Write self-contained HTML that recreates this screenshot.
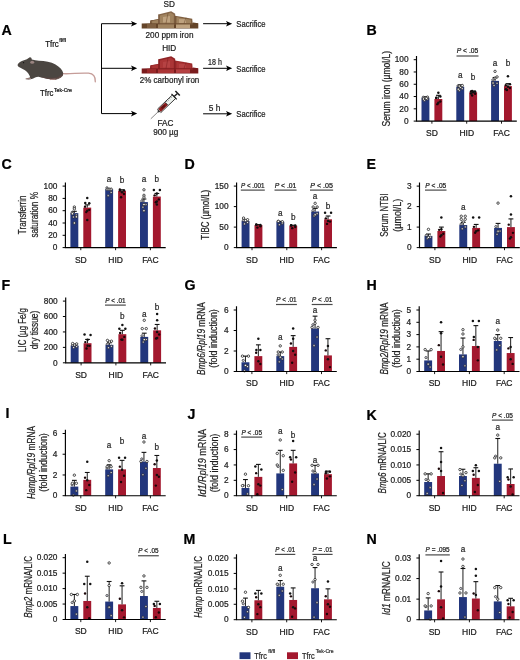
<!DOCTYPE html>
<html><head><meta charset="utf-8"><style>
html,body{margin:0;padding:0;background:#fff;}
svg{display:block;}
text{font-family:'Liberation Sans', sans-serif;stroke:currentColor;stroke-width:0.22px;}
</style></head><body>
<svg width="520" height="660" viewBox="0 0 520 660">
<rect width="520" height="660" fill="#fff"/>
<text x="1.5" y="35.4" font-size="14.2" text-anchor="start" fill="#000" color="#000" font-weight="bold" font-style="normal" stroke="#000" stroke-width="0.35">A</text>
<text x="45.2" y="46.9" font-size="8.8" fill="#1a1a1a" textLength="13.5" lengthAdjust="spacingAndGlyphs">Tfrc</text>
<text x="59.2" y="41.8" font-size="4.9" fill="#333" textLength="6.8" lengthAdjust="spacingAndGlyphs">fl/fl</text>
<text x="40.1" y="95.8" font-size="8.8" fill="#1a1a1a" textLength="13.3" lengthAdjust="spacingAndGlyphs">Tfrc</text>
<text x="54.1" y="91.6" font-size="4.9" fill="#333" textLength="17.7" lengthAdjust="spacingAndGlyphs">Tek-Cre</text>
<path d="M62.5 73.6 C70 74.2 80 72.6 88.5 73.2 C93 73.6 95.6 76 95.3 81.8" fill="none" stroke="#c59c98" stroke-width="1.35" stroke-linecap="round"/>
<path d="M17.6 64.8 C18.4 62.6 21 61 24 60.3 C26 59.6 27.8 58.6 29.4 57.4 C30.6 56.9 31.6 57.6 31.8 59.4 C34 60 36.5 60.6 39 60.8 C45 61 51 61.8 55.5 64.4 C59.6 66.8 62.6 70 63.2 73 C63.5 75.6 61.8 77.4 59.4 78 C57 79.4 54 79.9 50.5 79.2 C46 78.6 42 77.6 38.5 76.8 C36 77.2 34 78 32.6 78.8 C30.2 79.6 27.2 79.6 25.2 79 C26.8 77.9 28.8 77.8 30.2 77.2 C29.6 74.8 27.6 72.2 25 70.2 C22.8 69 20.6 67.9 18.9 67 C18 66.5 17.5 65.6 17.6 64.8 Z" fill="#4b4641"/>
<path d="M40 76.8 C46 77.6 52 78.2 57 77.2 C60 76.4 62.2 74.6 62.9 72.6 C62.6 75.6 61 77.5 58.8 78.2 C56 79.5 52 79.7 48 79 C45 78.4 42 77.6 40 76.8 Z" fill="#5a4542"/>
<path d="M50 79.2 C53 79.8 56 79.6 58.5 78.3 C60.5 77.5 62 76.6 62.8 75" fill="none" stroke="#6e5a52" stroke-width="1"/>
<ellipse cx="32.2" cy="62.2" rx="2" ry="1.5" fill="#9a8480"/>
<circle cx="23.6" cy="62.7" r="0.6" fill="#111"/>
<path d="M25.8 78.8 L31 78.6 M50 79.6 L55.5 79.2" stroke="#b08f8a" stroke-width="0.9"/>
<path d="M101.5 23.7 V113.6" fill="none" stroke="#000" stroke-width="1"/>
<line x1="101.5" y1="23.7" x2="133" y2="23.7" stroke="#000" stroke-width="1"/>
<path d="M137.2 23.7 L131 20.9 L132.4 23.7 L131 26.5 Z" fill="#000"/>
<line x1="101.5" y1="68.3" x2="133" y2="68.3" stroke="#000" stroke-width="1"/>
<path d="M137.2 68.3 L131 65.5 L132.4 68.3 L131 71.1 Z" fill="#000"/>
<line x1="101.5" y1="113.6" x2="133" y2="113.6" stroke="#000" stroke-width="1"/>
<path d="M137.2 113.6 L131 110.8 L132.4 113.6 L131 116.39999999999999 Z" fill="#000"/>
<line x1="203.1" y1="23.7" x2="228" y2="23.7" stroke="#000" stroke-width="1"/>
<path d="M232.2 23.7 L226 20.9 L227.4 23.7 L226 26.5 Z" fill="#000"/>
<text x="236.3" y="26.9" font-size="9.2" text-anchor="start" fill="#222" color="#222" font-weight="normal" font-style="normal" textLength="29.3" lengthAdjust="spacingAndGlyphs">Sacrifice</text>
<line x1="203.1" y1="68.3" x2="228" y2="68.3" stroke="#000" stroke-width="1"/>
<path d="M232.2 68.3 L226 65.5 L227.4 68.3 L226 71.1 Z" fill="#000"/>
<text x="236.3" y="71.5" font-size="9.2" text-anchor="start" fill="#222" color="#222" font-weight="normal" font-style="normal" textLength="29.3" lengthAdjust="spacingAndGlyphs">Sacrifice</text>
<line x1="203.1" y1="113.8" x2="228" y2="113.8" stroke="#000" stroke-width="1"/>
<path d="M232.2 113.8 L226 111.0 L227.4 113.8 L226 116.6 Z" fill="#000"/>
<text x="236.3" y="117" font-size="9.2" text-anchor="start" fill="#222" color="#222" font-weight="normal" font-style="normal" textLength="29.3" lengthAdjust="spacingAndGlyphs">Sacrifice</text>
<text x="215" y="65.2" font-size="8.7" text-anchor="middle" fill="#222" color="#222" font-weight="normal" font-style="normal" textLength="13.8" lengthAdjust="spacingAndGlyphs">18 h</text>
<text x="214.6" y="111" font-size="8.7" text-anchor="middle" fill="#222" color="#222" font-weight="normal" font-style="normal" textLength="11.6" lengthAdjust="spacingAndGlyphs">5 h</text>
<text x="169.2" y="6.8" font-size="8.2" text-anchor="middle" fill="#222" color="#222" font-weight="normal" font-style="normal" >SD</text>
<text x="169.5" y="38.4" font-size="8.2" text-anchor="middle" fill="#222" color="#222" font-weight="normal" font-style="normal" textLength="48" lengthAdjust="spacingAndGlyphs">200 ppm iron</text>
<text x="169.2" y="51.2" font-size="8.2" text-anchor="middle" fill="#222" color="#222" font-weight="normal" font-style="normal" >HID</text>
<text x="169.5" y="83.4" font-size="8.2" text-anchor="middle" fill="#222" color="#222" font-weight="normal" font-style="normal" textLength="59.6" lengthAdjust="spacingAndGlyphs">2% carbonyl iron</text>
<text x="165.5" y="126.3" font-size="8.2" text-anchor="middle" fill="#222" color="#222" font-weight="normal" font-style="normal" >FAC</text>
<text x="165.8" y="134.8" font-size="8.2" text-anchor="middle" fill="#222" color="#222" font-weight="normal" font-style="normal" >900 µg</text>
<polygon points="141.7,28.6 141.7,23.6 150.0,23.3 150.3,20.6 159.5,19.1 159.5,23.4 175.0,23.2 192.3,23.4 193.0,22.6 198.3,23.3 198.3,28.6" fill="#654529"/>
<polygon points="147.0,28.0 147.0,24.0 156.0,24.0 156.0,28.0" fill="#7f5f40"/>
<polygon points="158.0,28.0 158.0,24.0 174.0,23.8 174.0,28.0" fill="#a0835f"/>
<polygon points="176.0,28.0 176.0,24.0 190.0,24.0 190.0,28.0" fill="#bea27f"/>
<polygon points="150.3,24.1 150.6,20.4 159.6,18.9 159.6,24.1" fill="#7f5f40"/>
<polygon points="152.0,23.6 152.2,21.0 158.6,19.8 158.6,23.6" fill="#a0835f"/>
<polygon points="158.4,24.6 158.3,14.4 171.2,11.3 175.2,13.8 175.2,24.6" fill="#86674a"/>
<polygon points="160.0,23.6 160.0,15.6 170.8,12.8 173.8,14.8 173.8,23.6" fill="#a0835f"/>
<polygon points="163.0,22.6 163.0,17.1 170.0,16.1 170.0,22.6" fill="#bea27f"/>
<polygon points="174.6,24.6 174.9,15.7 181.0,16.7 192.2,18.7 192.8,24.6" fill="#7f5f40"/>
<polygon points="176.4,23.6 176.6,17.0 181.0,17.9 190.8,19.8 191.3,23.6" fill="#a0835f"/>
<polygon points="179.0,23.0 179.0,19.1 186.0,19.1 186.0,23.0" fill="#bea27f"/>
<path d="M158.8 24.4V14.4 M175 24.4V15.6 M166 23.6L168 13.1 M184 23.6L186 17.6 M150.5 23.6H198" stroke="#654529" stroke-width="0.5" fill="none"/>
<polygon points="141.7,73.5 141.7,68.5 150.0,68.2 150.3,65.5 159.5,64.0 159.5,68.3 175.0,68.1 192.3,68.3 193.0,67.5 198.3,68.2 198.3,73.5" fill="#7a1b1d"/>
<polygon points="147.0,72.9 147.0,68.9 156.0,68.9 156.0,72.9" fill="#9c2a2b"/>
<polygon points="158.0,72.9 158.0,68.9 174.0,68.7 174.0,72.9" fill="#ab3536"/>
<polygon points="176.0,72.9 176.0,68.9 190.0,68.9 190.0,72.9" fill="#b64243"/>
<polygon points="150.3,69.0 150.6,65.3 159.6,63.8 159.6,69.0" fill="#9c2a2b"/>
<polygon points="152.0,68.5 152.2,65.9 158.6,64.7 158.6,68.5" fill="#ab3536"/>
<polygon points="158.4,69.5 158.3,59.3 171.2,56.2 175.2,58.7 175.2,69.5" fill="#8f2426"/>
<polygon points="160.0,68.5 160.0,60.5 170.8,57.7 173.8,59.7 173.8,68.5" fill="#ab3536"/>
<polygon points="163.0,67.5 163.0,62.0 170.0,61.0 170.0,67.5" fill="#b64243"/>
<polygon points="174.6,69.5 174.9,60.6 181.0,61.6 192.2,63.6 192.8,69.5" fill="#9c2a2b"/>
<polygon points="176.4,68.5 176.6,61.9 181.0,62.8 190.8,64.7 191.3,68.5" fill="#ab3536"/>
<polygon points="179.0,67.9 179.0,64.0 186.0,64.0 186.0,67.9" fill="#b64243"/>
<path d="M158.8 69.3V59.3 M175 69.3V60.5 M166 68.5L168 58.0 M184 68.5L186 62.5 M150.5 68.5H198" stroke="#7a1b1d" stroke-width="0.5" fill="none"/>
<g transform="translate(150.8 118.8) rotate(-43.6)"><line x1="0" y1="0" x2="10.5" y2="0" stroke="#444" stroke-width="0.6"/><rect x="10" y="-1.1" width="1.8" height="2.2" fill="#333"/><rect x="11.6" y="-2.4" width="20.6" height="4.8" fill="#eef2ee" stroke="#1e1e1e" stroke-width="0.8"/><rect x="12.2" y="-1.8" width="9.6" height="3.6" fill="#8e1c1c"/><rect x="15" y="-1.2" width="4.5" height="2" fill="#5e1010"/><line x1="21.8" y1="-1.8" x2="21.8" y2="1.8" stroke="#333" stroke-width="0.8"/><line x1="23.5" y1="-2.4" x2="23.5" y2="-0.8" stroke="#333" stroke-width="0.45"/><line x1="25.5" y1="-2.4" x2="25.5" y2="-0.8" stroke="#333" stroke-width="0.45"/><line x1="27.5" y1="-2.4" x2="27.5" y2="-0.8" stroke="#333" stroke-width="0.45"/><line x1="29.5" y1="-2.4" x2="29.5" y2="-0.8" stroke="#333" stroke-width="0.45"/><line x1="32.2" y1="-3.8" x2="32.2" y2="3.8" stroke="#1e1e1e" stroke-width="1.2"/><line x1="32.2" y1="0" x2="36.8" y2="0" stroke="#1e1e1e" stroke-width="1.3"/><line x1="37" y1="-3.2" x2="37" y2="3.2" stroke="#1e1e1e" stroke-width="1.5"/></g>
<text x="366.5" y="35.4" font-size="14.2" text-anchor="start" fill="#000" color="#000" font-weight="bold" font-style="normal" stroke="#000" stroke-width="0.35">B</text>
<rect x="421.5" y="97.77" width="7.9" height="23.33" fill="#22367c"/>
<line x1="425.45" y1="97.77" x2="425.45" y2="96.54" stroke="#111" stroke-width="0.95"/>
<line x1="423.05" y1="96.54" x2="427.85" y2="96.54" stroke="#111" stroke-width="1.1"/>
<circle cx="423.25" cy="97.21" r="1.1" fill="#dde" stroke="#222" stroke-width="0.7"/>
<circle cx="427.45" cy="99.07" r="1.1" fill="#dde" stroke="#222" stroke-width="0.7"/>
<circle cx="424.45" cy="100.38" r="1.1" fill="#dde" stroke="#222" stroke-width="0.7"/>
<circle cx="423.45" cy="99" r="1.2" fill="#fff" stroke="#222" stroke-width="0.8"/>
<circle cx="425.45" cy="97.77" r="1.2" fill="#fff" stroke="#222" stroke-width="0.8"/>
<circle cx="427.45" cy="97.15" r="1.2" fill="#fff" stroke="#222" stroke-width="0.8"/>
<circle cx="426.45" cy="98.38" r="1.2" fill="#fff" stroke="#222" stroke-width="0.8"/>
<rect x="434.4" y="99" width="7.9" height="22.1" fill="#a3182e"/>
<line x1="438.35" y1="99" x2="438.35" y2="95.31" stroke="#111" stroke-width="0.95"/>
<line x1="435.95" y1="95.31" x2="440.75" y2="95.31" stroke="#111" stroke-width="1.1"/>
<circle cx="436.15" cy="97.89" r="1.2" fill="#1a0608"/>
<circle cx="440.35" cy="101.57" r="1.2" fill="#1a0608"/>
<circle cx="437.35" cy="104.15" r="1.2" fill="#1a0608"/>
<circle cx="438.35" cy="102.68" r="1.25" fill="#111"/>
<circle cx="436.35" cy="97.77" r="1.25" fill="#111"/>
<circle cx="440.35" cy="96.54" r="1.25" fill="#111"/>
<circle cx="438.35" cy="92.86" r="1.25" fill="#111"/>
<rect x="456.3" y="86.72" width="7.9" height="34.38" fill="#22367c"/>
<line x1="460.25" y1="86.72" x2="460.25" y2="84.87" stroke="#111" stroke-width="0.95"/>
<line x1="457.85" y1="84.87" x2="462.65" y2="84.87" stroke="#111" stroke-width="1.1"/>
<circle cx="458.05" cy="85.89" r="1.1" fill="#dde" stroke="#222" stroke-width="0.7"/>
<circle cx="462.25" cy="88.64" r="1.1" fill="#dde" stroke="#222" stroke-width="0.7"/>
<circle cx="459.25" cy="90.57" r="1.1" fill="#dde" stroke="#222" stroke-width="0.7"/>
<circle cx="458.25" cy="89.17" r="1.2" fill="#fff" stroke="#222" stroke-width="0.8"/>
<circle cx="460.25" cy="87.33" r="1.2" fill="#fff" stroke="#222" stroke-width="0.8"/>
<circle cx="462.25" cy="85.49" r="1.2" fill="#fff" stroke="#222" stroke-width="0.8"/>
<circle cx="459.25" cy="86.1" r="1.2" fill="#fff" stroke="#222" stroke-width="0.8"/>
<rect x="469.2" y="92.24" width="7.9" height="28.86" fill="#a3182e"/>
<line x1="473.15" y1="92.24" x2="473.15" y2="91.01" stroke="#111" stroke-width="0.95"/>
<line x1="470.75" y1="91.01" x2="475.55" y2="91.01" stroke="#111" stroke-width="1.1"/>
<circle cx="470.95" cy="91.55" r="1.2" fill="#1a0608"/>
<circle cx="475.15" cy="93.86" r="1.2" fill="#1a0608"/>
<circle cx="472.15" cy="95.47" r="1.2" fill="#1a0608"/>
<circle cx="471.15" cy="93.47" r="1.25" fill="#111"/>
<circle cx="473.15" cy="92.24" r="1.25" fill="#111"/>
<circle cx="475.15" cy="91.63" r="1.25" fill="#111"/>
<circle cx="472.15" cy="91.01" r="1.25" fill="#111"/>
<rect x="491.1" y="80.88" width="7.9" height="40.22" fill="#22367c"/>
<line x1="495.05" y1="80.88" x2="495.05" y2="77.51" stroke="#111" stroke-width="0.95"/>
<line x1="492.65" y1="77.51" x2="497.45" y2="77.51" stroke="#111" stroke-width="1.1"/>
<circle cx="492.85" cy="79.87" r="1.1" fill="#dde" stroke="#222" stroke-width="0.7"/>
<circle cx="497.05" cy="83.25" r="1.1" fill="#dde" stroke="#222" stroke-width="0.7"/>
<circle cx="494.05" cy="85.61" r="1.1" fill="#dde" stroke="#222" stroke-width="0.7"/>
<circle cx="493.05" cy="83.03" r="1.2" fill="#fff" stroke="#222" stroke-width="0.8"/>
<circle cx="495.05" cy="78.12" r="1.2" fill="#fff" stroke="#222" stroke-width="0.8"/>
<circle cx="497.05" cy="76.89" r="1.2" fill="#fff" stroke="#222" stroke-width="0.8"/>
<circle cx="495.05" cy="71.37" r="1.2" fill="#fff" stroke="#222" stroke-width="0.8"/>
<rect x="504" y="86.1" width="7.9" height="35" fill="#a3182e"/>
<line x1="507.95" y1="86.1" x2="507.95" y2="83.65" stroke="#111" stroke-width="0.95"/>
<line x1="505.55" y1="83.65" x2="510.35" y2="83.65" stroke="#111" stroke-width="1.1"/>
<circle cx="505.75" cy="85.26" r="1.2" fill="#1a0608"/>
<circle cx="509.95" cy="88.06" r="1.2" fill="#1a0608"/>
<circle cx="506.95" cy="90.02" r="1.2" fill="#1a0608"/>
<circle cx="505.95" cy="89.17" r="1.25" fill="#111"/>
<circle cx="507.95" cy="86.72" r="1.25" fill="#111"/>
<circle cx="509.95" cy="84.26" r="1.25" fill="#111"/>
<circle cx="507.95" cy="76.28" r="1.25" fill="#111"/>
<path d="M416.5 56V121.1H516.8" fill="none" stroke="#000" stroke-width="1.15"/>
<line x1="413.7" y1="121.1" x2="416.5" y2="121.1" stroke="#000" stroke-width="1"/>
<text x="408.5" y="123.85" font-size="8.3" text-anchor="end" fill="#222" color="#222" font-weight="normal" font-style="normal" >0</text>
<line x1="413.7" y1="108.82" x2="416.5" y2="108.82" stroke="#000" stroke-width="1"/>
<text x="408.5" y="111.57" font-size="8.3" text-anchor="end" fill="#222" color="#222" font-weight="normal" font-style="normal" >20</text>
<line x1="413.7" y1="96.54" x2="416.5" y2="96.54" stroke="#000" stroke-width="1"/>
<text x="408.5" y="99.29" font-size="8.3" text-anchor="end" fill="#222" color="#222" font-weight="normal" font-style="normal" >40</text>
<line x1="413.7" y1="84.26" x2="416.5" y2="84.26" stroke="#000" stroke-width="1"/>
<text x="408.5" y="87.01" font-size="8.3" text-anchor="end" fill="#222" color="#222" font-weight="normal" font-style="normal" >60</text>
<line x1="413.7" y1="71.98" x2="416.5" y2="71.98" stroke="#000" stroke-width="1"/>
<text x="408.5" y="74.73" font-size="8.3" text-anchor="end" fill="#222" color="#222" font-weight="normal" font-style="normal" >80</text>
<line x1="413.7" y1="59.7" x2="416.5" y2="59.7" stroke="#000" stroke-width="1"/>
<text x="408.5" y="62.45" font-size="8.3" text-anchor="end" fill="#222" color="#222" font-weight="normal" font-style="normal" >100</text>
<line x1="431.9" y1="121.1" x2="431.9" y2="123.7" stroke="#000" stroke-width="0.9"/>
<text x="431.9" y="136" font-size="8.5" text-anchor="middle" fill="#1a1a1a" color="#1a1a1a" font-weight="normal" font-style="normal" >SD</text>
<line x1="466.7" y1="121.1" x2="466.7" y2="123.7" stroke="#000" stroke-width="0.9"/>
<text x="466.7" y="136" font-size="8.5" text-anchor="middle" fill="#1a1a1a" color="#1a1a1a" font-weight="normal" font-style="normal" >HID</text>
<line x1="501.5" y1="121.1" x2="501.5" y2="123.7" stroke="#000" stroke-width="0.9"/>
<text x="501.5" y="136" font-size="8.5" text-anchor="middle" fill="#1a1a1a" color="#1a1a1a" font-weight="normal" font-style="normal" >FAC</text>
<text transform="translate(390,88.7) rotate(-90)" font-size="10.1" text-anchor="middle" fill="#1e1e1e" color="#1e1e1e" textLength="75.7" lengthAdjust="spacingAndGlyphs">Serum iron (µmol/L)</text>
<text x="460.25" y="77.9" font-size="8.2" text-anchor="middle" fill="#2a2a2a" color="#2a2a2a" font-weight="normal" font-style="normal" >a</text>
<text x="473.15" y="80" font-size="8.2" text-anchor="middle" fill="#2a2a2a" color="#2a2a2a" font-weight="normal" font-style="normal" >b</text>
<text x="495.05" y="66.1" font-size="8.2" text-anchor="middle" fill="#2a2a2a" color="#2a2a2a" font-weight="normal" font-style="normal" >a</text>
<text x="507.95" y="65.5" font-size="8.2" text-anchor="middle" fill="#2a2a2a" color="#2a2a2a" font-weight="normal" font-style="normal" >b</text>
<line x1="456.5" y1="56" x2="478.5" y2="56" stroke="#4a4a4a" stroke-width="1.2"/>
<text x="467.5" y="53.4" font-size="6.4" text-anchor="middle" fill="#222" color="#222" font-weight="normal" font-style="normal" textLength="21.6" lengthAdjust="spacingAndGlyphs"><tspan font-style="italic">P</tspan> &lt; .05</text>
<text x="1.5" y="168.5" font-size="14.2" text-anchor="start" fill="#000" color="#000" font-weight="bold" font-style="normal" stroke="#000" stroke-width="0.35">C</text>
<rect x="70.4" y="213.16" width="7.9" height="34.44" fill="#22367c"/>
<line x1="74.35" y1="213.16" x2="74.35" y2="211.31" stroke="#111" stroke-width="0.95"/>
<line x1="71.95" y1="211.31" x2="76.75" y2="211.31" stroke="#111" stroke-width="1.1"/>
<circle cx="72.15" cy="212.33" r="1.1" fill="#dde" stroke="#222" stroke-width="0.7"/>
<circle cx="76.35" cy="215.09" r="1.1" fill="#dde" stroke="#222" stroke-width="0.7"/>
<circle cx="73.35" cy="217.02" r="1.1" fill="#dde" stroke="#222" stroke-width="0.7"/>
<circle cx="74.35" cy="207.01" r="1.2" fill="#fff" stroke="#222" stroke-width="0.8"/>
<circle cx="74.35" cy="208.85" r="1.2" fill="#fff" stroke="#222" stroke-width="0.8"/>
<circle cx="72.35" cy="213.77" r="1.2" fill="#fff" stroke="#222" stroke-width="0.8"/>
<circle cx="76.35" cy="216.85" r="1.2" fill="#fff" stroke="#222" stroke-width="0.8"/>
<circle cx="74.35" cy="223" r="1.2" fill="#fff" stroke="#222" stroke-width="0.8"/>
<rect x="83.3" y="207.62" width="7.9" height="39.97" fill="#a3182e"/>
<line x1="87.25" y1="207.62" x2="87.25" y2="204.86" stroke="#111" stroke-width="0.95"/>
<line x1="84.85" y1="204.86" x2="89.65" y2="204.86" stroke="#111" stroke-width="1.1"/>
<circle cx="85.05" cy="206.67" r="1.2" fill="#1a0608"/>
<circle cx="89.25" cy="209.86" r="1.2" fill="#1a0608"/>
<circle cx="86.25" cy="212.1" r="1.2" fill="#1a0608"/>
<circle cx="87.25" cy="198.03" r="1.25" fill="#111"/>
<circle cx="85.25" cy="203.01" r="1.25" fill="#111"/>
<circle cx="89.25" cy="203.32" r="1.25" fill="#111"/>
<circle cx="87.25" cy="210.7" r="1.25" fill="#111"/>
<circle cx="87.25" cy="219.92" r="1.25" fill="#111"/>
<rect x="105.2" y="189.18" width="7.9" height="58.42" fill="#22367c"/>
<line x1="109.15" y1="189.18" x2="109.15" y2="188.56" stroke="#111" stroke-width="0.95"/>
<line x1="106.75" y1="188.56" x2="111.55" y2="188.56" stroke="#111" stroke-width="1.1"/>
<circle cx="106.95" cy="187.77" r="1.1" fill="#dde" stroke="#222" stroke-width="0.7"/>
<circle cx="111.15" cy="192.45" r="1.1" fill="#dde" stroke="#222" stroke-width="0.7"/>
<circle cx="108.15" cy="195.72" r="1.1" fill="#dde" stroke="#222" stroke-width="0.7"/>
<circle cx="107.15" cy="189.18" r="1.2" fill="#fff" stroke="#222" stroke-width="0.8"/>
<circle cx="109.15" cy="189.18" r="1.2" fill="#fff" stroke="#222" stroke-width="0.8"/>
<circle cx="111.15" cy="189.18" r="1.2" fill="#fff" stroke="#222" stroke-width="0.8"/>
<rect x="118.1" y="190.84" width="7.9" height="56.76" fill="#a3182e"/>
<line x1="122.05" y1="190.84" x2="122.05" y2="189.79" stroke="#111" stroke-width="0.95"/>
<line x1="119.65" y1="189.79" x2="124.45" y2="189.79" stroke="#111" stroke-width="1.1"/>
<circle cx="119.85" cy="189.47" r="1.2" fill="#1a0608"/>
<circle cx="124.05" cy="194.01" r="1.2" fill="#1a0608"/>
<circle cx="121.05" cy="197.19" r="1.2" fill="#1a0608"/>
<circle cx="120.05" cy="190.41" r="1.25" fill="#111"/>
<circle cx="124.05" cy="190.41" r="1.25" fill="#111"/>
<circle cx="122.05" cy="192.25" r="1.25" fill="#111"/>
<rect x="140" y="202.09" width="7.9" height="45.51" fill="#22367c"/>
<line x1="143.95" y1="202.09" x2="143.95" y2="199.01" stroke="#111" stroke-width="0.95"/>
<line x1="141.55" y1="199.01" x2="146.35" y2="199.01" stroke="#111" stroke-width="1.1"/>
<circle cx="141.75" cy="201" r="1.1" fill="#dde" stroke="#222" stroke-width="0.7"/>
<circle cx="145.95" cy="204.64" r="1.1" fill="#dde" stroke="#222" stroke-width="0.7"/>
<circle cx="142.95" cy="207.19" r="1.1" fill="#dde" stroke="#222" stroke-width="0.7"/>
<circle cx="143.95" cy="189.79" r="1.2" fill="#fff" stroke="#222" stroke-width="0.8"/>
<circle cx="143.95" cy="195.32" r="1.2" fill="#fff" stroke="#222" stroke-width="0.8"/>
<circle cx="143.95" cy="197.17" r="1.2" fill="#fff" stroke="#222" stroke-width="0.8"/>
<circle cx="143.95" cy="204.55" r="1.2" fill="#fff" stroke="#222" stroke-width="0.8"/>
<circle cx="143.95" cy="210.7" r="1.2" fill="#fff" stroke="#222" stroke-width="0.8"/>
<rect x="152.9" y="196.56" width="7.9" height="51.04" fill="#a3182e"/>
<line x1="156.85" y1="196.56" x2="156.85" y2="193.48" stroke="#111" stroke-width="0.95"/>
<line x1="154.45" y1="193.48" x2="159.25" y2="193.48" stroke="#111" stroke-width="1.1"/>
<circle cx="154.65" cy="195.33" r="1.2" fill="#1a0608"/>
<circle cx="158.85" cy="199.41" r="1.2" fill="#1a0608"/>
<circle cx="155.85" cy="202.27" r="1.2" fill="#1a0608"/>
<circle cx="153.85" cy="190.04" r="1.25" fill="#111"/>
<circle cx="159.85" cy="190.04" r="1.25" fill="#111"/>
<circle cx="156.85" cy="193.48" r="1.25" fill="#111"/>
<circle cx="156.85" cy="201.47" r="1.25" fill="#111"/>
<circle cx="156.85" cy="204.55" r="1.25" fill="#111"/>
<path d="M65.4 182.4V247.6H165.7" fill="none" stroke="#000" stroke-width="1.15"/>
<line x1="62.6" y1="247.6" x2="65.4" y2="247.6" stroke="#000" stroke-width="1"/>
<text x="57.4" y="250.35" font-size="8.3" text-anchor="end" fill="#222" color="#222" font-weight="normal" font-style="normal" >0</text>
<line x1="62.6" y1="235.3" x2="65.4" y2="235.3" stroke="#000" stroke-width="1"/>
<text x="57.4" y="238.05" font-size="8.3" text-anchor="end" fill="#222" color="#222" font-weight="normal" font-style="normal" >20</text>
<line x1="62.6" y1="223" x2="65.4" y2="223" stroke="#000" stroke-width="1"/>
<text x="57.4" y="225.75" font-size="8.3" text-anchor="end" fill="#222" color="#222" font-weight="normal" font-style="normal" >40</text>
<line x1="62.6" y1="210.7" x2="65.4" y2="210.7" stroke="#000" stroke-width="1"/>
<text x="57.4" y="213.45" font-size="8.3" text-anchor="end" fill="#222" color="#222" font-weight="normal" font-style="normal" >60</text>
<line x1="62.6" y1="198.4" x2="65.4" y2="198.4" stroke="#000" stroke-width="1"/>
<text x="57.4" y="201.15" font-size="8.3" text-anchor="end" fill="#222" color="#222" font-weight="normal" font-style="normal" >80</text>
<line x1="62.6" y1="186.1" x2="65.4" y2="186.1" stroke="#000" stroke-width="1"/>
<text x="57.4" y="188.85" font-size="8.3" text-anchor="end" fill="#222" color="#222" font-weight="normal" font-style="normal" >100</text>
<line x1="80.8" y1="247.6" x2="80.8" y2="250.2" stroke="#000" stroke-width="0.9"/>
<text x="80.8" y="262.5" font-size="8.5" text-anchor="middle" fill="#1a1a1a" color="#1a1a1a" font-weight="normal" font-style="normal" >SD</text>
<line x1="115.6" y1="247.6" x2="115.6" y2="250.2" stroke="#000" stroke-width="0.9"/>
<text x="115.6" y="262.5" font-size="8.5" text-anchor="middle" fill="#1a1a1a" color="#1a1a1a" font-weight="normal" font-style="normal" >HID</text>
<line x1="150.4" y1="247.6" x2="150.4" y2="250.2" stroke="#000" stroke-width="0.9"/>
<text x="150.4" y="262.5" font-size="8.5" text-anchor="middle" fill="#1a1a1a" color="#1a1a1a" font-weight="normal" font-style="normal" >FAC</text>
<text transform="translate(25.9,214.8) rotate(-90)" font-size="10.1" text-anchor="middle" fill="#1e1e1e" color="#1e1e1e" textLength="38.7" lengthAdjust="spacingAndGlyphs">Transferrin</text>
<text transform="translate(38.4,214.8) rotate(-90)" font-size="10.1" text-anchor="middle" fill="#1e1e1e" color="#1e1e1e" textLength="45.5" lengthAdjust="spacingAndGlyphs">saturation %</text>
<text x="109.15" y="181.5" font-size="8.2" text-anchor="middle" fill="#2a2a2a" color="#2a2a2a" font-weight="normal" font-style="normal" >a</text>
<text x="122.05" y="182.6" font-size="8.2" text-anchor="middle" fill="#2a2a2a" color="#2a2a2a" font-weight="normal" font-style="normal" >b</text>
<text x="143.95" y="181.5" font-size="8.2" text-anchor="middle" fill="#2a2a2a" color="#2a2a2a" font-weight="normal" font-style="normal" >a</text>
<text x="156.85" y="182" font-size="8.2" text-anchor="middle" fill="#2a2a2a" color="#2a2a2a" font-weight="normal" font-style="normal" >b</text>
<text x="184.5" y="168.5" font-size="14.2" text-anchor="start" fill="#000" color="#000" font-weight="bold" font-style="normal" stroke="#000" stroke-width="0.35">D</text>
<rect x="241.6" y="220.95" width="7.9" height="26.65" fill="#22367c"/>
<line x1="245.55" y1="220.95" x2="245.55" y2="219.72" stroke="#111" stroke-width="0.95"/>
<line x1="243.15" y1="219.72" x2="247.95" y2="219.72" stroke="#111" stroke-width="1.1"/>
<circle cx="243.35" cy="220.31" r="1.1" fill="#dde" stroke="#222" stroke-width="0.7"/>
<circle cx="247.55" cy="222.44" r="1.1" fill="#dde" stroke="#222" stroke-width="0.7"/>
<circle cx="244.55" cy="223.93" r="1.1" fill="#dde" stroke="#222" stroke-width="0.7"/>
<circle cx="243.55" cy="218.08" r="1.2" fill="#fff" stroke="#222" stroke-width="0.8"/>
<circle cx="247.55" cy="219.72" r="1.2" fill="#fff" stroke="#222" stroke-width="0.8"/>
<circle cx="245.55" cy="220.54" r="1.2" fill="#fff" stroke="#222" stroke-width="0.8"/>
<rect x="254.5" y="225.05" width="7.9" height="22.55" fill="#a3182e"/>
<line x1="258.45" y1="225.05" x2="258.45" y2="224.64" stroke="#111" stroke-width="0.95"/>
<line x1="256.05" y1="224.64" x2="260.85" y2="224.64" stroke="#111" stroke-width="1.1"/>
<circle cx="256.25" cy="224.51" r="1.2" fill="#1a0608"/>
<circle cx="260.45" cy="226.31" r="1.2" fill="#1a0608"/>
<circle cx="257.45" cy="227.58" r="1.2" fill="#1a0608"/>
<circle cx="256.45" cy="224.64" r="1.25" fill="#111"/>
<circle cx="260.45" cy="225.05" r="1.25" fill="#111"/>
<rect x="276.4" y="221.89" width="7.9" height="25.71" fill="#22367c"/>
<line x1="280.35" y1="221.89" x2="280.35" y2="221.36" stroke="#111" stroke-width="0.95"/>
<line x1="277.95" y1="221.36" x2="282.75" y2="221.36" stroke="#111" stroke-width="1.1"/>
<circle cx="278.15" cy="221.28" r="1.1" fill="#dde" stroke="#222" stroke-width="0.7"/>
<circle cx="282.35" cy="223.33" r="1.1" fill="#dde" stroke="#222" stroke-width="0.7"/>
<circle cx="279.35" cy="224.77" r="1.1" fill="#dde" stroke="#222" stroke-width="0.7"/>
<circle cx="278.35" cy="221.36" r="1.2" fill="#fff" stroke="#222" stroke-width="0.8"/>
<circle cx="282.35" cy="221.77" r="1.2" fill="#fff" stroke="#222" stroke-width="0.8"/>
<rect x="289.3" y="225.71" width="7.9" height="21.89" fill="#a3182e"/>
<line x1="293.25" y1="225.71" x2="293.25" y2="225.25" stroke="#111" stroke-width="0.95"/>
<line x1="290.85" y1="225.25" x2="295.65" y2="225.25" stroke="#111" stroke-width="1.1"/>
<circle cx="291.05" cy="225.18" r="1.2" fill="#1a0608"/>
<circle cx="295.25" cy="226.93" r="1.2" fill="#1a0608"/>
<circle cx="292.25" cy="228.16" r="1.2" fill="#1a0608"/>
<circle cx="291.25" cy="225.46" r="1.25" fill="#111"/>
<circle cx="295.25" cy="225.46" r="1.25" fill="#111"/>
<rect x="311.2" y="211.52" width="7.9" height="36.08" fill="#22367c"/>
<line x1="315.15" y1="211.52" x2="315.15" y2="208.4" stroke="#111" stroke-width="0.95"/>
<line x1="312.75" y1="208.4" x2="317.55" y2="208.4" stroke="#111" stroke-width="1.1"/>
<circle cx="312.95" cy="210.59" r="1.1" fill="#dde" stroke="#222" stroke-width="0.7"/>
<circle cx="317.15" cy="213.7" r="1.1" fill="#dde" stroke="#222" stroke-width="0.7"/>
<circle cx="314.15" cy="215.88" r="1.1" fill="#dde" stroke="#222" stroke-width="0.7"/>
<circle cx="315.15" cy="203.32" r="1.2" fill="#fff" stroke="#222" stroke-width="0.8"/>
<circle cx="313.15" cy="207.01" r="1.2" fill="#fff" stroke="#222" stroke-width="0.8"/>
<circle cx="317.15" cy="207.01" r="1.2" fill="#fff" stroke="#222" stroke-width="0.8"/>
<circle cx="315.15" cy="214.8" r="1.2" fill="#fff" stroke="#222" stroke-width="0.8"/>
<rect x="324.1" y="219.31" width="7.9" height="28.29" fill="#a3182e"/>
<line x1="328.05" y1="219.31" x2="328.05" y2="216.03" stroke="#111" stroke-width="0.95"/>
<line x1="325.65" y1="216.03" x2="330.45" y2="216.03" stroke="#111" stroke-width="1.1"/>
<circle cx="325.85" cy="218.33" r="1.2" fill="#1a0608"/>
<circle cx="330.05" cy="221.61" r="1.2" fill="#1a0608"/>
<circle cx="327.05" cy="223.9" r="1.2" fill="#1a0608"/>
<circle cx="325.05" cy="212.75" r="1.25" fill="#111"/>
<circle cx="331.05" cy="212.75" r="1.25" fill="#111"/>
<circle cx="328.05" cy="220.95" r="1.25" fill="#111"/>
<path d="M236.6 182.4V247.6H336.9" fill="none" stroke="#000" stroke-width="1.15"/>
<line x1="233.8" y1="247.6" x2="236.6" y2="247.6" stroke="#000" stroke-width="1"/>
<text x="228.6" y="250.35" font-size="8.3" text-anchor="end" fill="#222" color="#222" font-weight="normal" font-style="normal" >0</text>
<line x1="233.8" y1="227.1" x2="236.6" y2="227.1" stroke="#000" stroke-width="1"/>
<text x="228.6" y="229.85" font-size="8.3" text-anchor="end" fill="#222" color="#222" font-weight="normal" font-style="normal" >50</text>
<line x1="233.8" y1="206.6" x2="236.6" y2="206.6" stroke="#000" stroke-width="1"/>
<text x="228.6" y="209.35" font-size="8.3" text-anchor="end" fill="#222" color="#222" font-weight="normal" font-style="normal" >100</text>
<line x1="233.8" y1="186.1" x2="236.6" y2="186.1" stroke="#000" stroke-width="1"/>
<text x="228.6" y="188.85" font-size="8.3" text-anchor="end" fill="#222" color="#222" font-weight="normal" font-style="normal" >150</text>
<line x1="252" y1="247.6" x2="252" y2="250.2" stroke="#000" stroke-width="0.9"/>
<text x="252" y="262.5" font-size="8.5" text-anchor="middle" fill="#1a1a1a" color="#1a1a1a" font-weight="normal" font-style="normal" >SD</text>
<line x1="286.8" y1="247.6" x2="286.8" y2="250.2" stroke="#000" stroke-width="0.9"/>
<text x="286.8" y="262.5" font-size="8.5" text-anchor="middle" fill="#1a1a1a" color="#1a1a1a" font-weight="normal" font-style="normal" >HID</text>
<line x1="321.6" y1="247.6" x2="321.6" y2="250.2" stroke="#000" stroke-width="0.9"/>
<text x="321.6" y="262.5" font-size="8.5" text-anchor="middle" fill="#1a1a1a" color="#1a1a1a" font-weight="normal" font-style="normal" >FAC</text>
<text transform="translate(208.9,214.7) rotate(-90)" font-size="10.1" text-anchor="middle" fill="#1e1e1e" color="#1e1e1e" textLength="50" lengthAdjust="spacingAndGlyphs">TIBC (µmol/L)</text>
<text x="280.35" y="215.9" font-size="8.2" text-anchor="middle" fill="#2a2a2a" color="#2a2a2a" font-weight="normal" font-style="normal" >a</text>
<text x="293.25" y="220.4" font-size="8.2" text-anchor="middle" fill="#2a2a2a" color="#2a2a2a" font-weight="normal" font-style="normal" >b</text>
<text x="315.15" y="199.2" font-size="8.2" text-anchor="middle" fill="#2a2a2a" color="#2a2a2a" font-weight="normal" font-style="normal" >a</text>
<text x="328.05" y="208.5" font-size="8.2" text-anchor="middle" fill="#2a2a2a" color="#2a2a2a" font-weight="normal" font-style="normal" >b</text>
<line x1="240.8" y1="190.1" x2="264.8" y2="190.1" stroke="#4a4a4a" stroke-width="1.2"/>
<text x="252.8" y="187.5" font-size="6.4" text-anchor="middle" fill="#222" color="#222" font-weight="normal" font-style="normal" textLength="23.6" lengthAdjust="spacingAndGlyphs"><tspan font-style="italic">P</tspan> &lt; .001</text>
<line x1="274.5" y1="190.1" x2="296.6" y2="190.1" stroke="#4a4a4a" stroke-width="1.2"/>
<text x="285.55" y="187.5" font-size="6.4" text-anchor="middle" fill="#222" color="#222" font-weight="normal" font-style="normal" textLength="21.7" lengthAdjust="spacingAndGlyphs"><tspan font-style="italic">P</tspan> &lt; .01</text>
<line x1="310" y1="190.1" x2="333.1" y2="190.1" stroke="#4a4a4a" stroke-width="1.2"/>
<text x="321.55" y="187.5" font-size="6.4" text-anchor="middle" fill="#222" color="#222" font-weight="normal" font-style="normal" textLength="22.7" lengthAdjust="spacingAndGlyphs"><tspan font-style="italic">P</tspan> &lt; .05</text>
<text x="366.5" y="168.5" font-size="14.2" text-anchor="start" fill="#000" color="#000" font-weight="bold" font-style="normal" stroke="#000" stroke-width="0.35">E</text>
<rect x="424.5" y="235.91" width="7.9" height="11.69" fill="#22367c"/>
<line x1="428.45" y1="235.91" x2="428.45" y2="234.07" stroke="#111" stroke-width="0.95"/>
<line x1="426.05" y1="234.07" x2="430.85" y2="234.07" stroke="#111" stroke-width="1.1"/>
<circle cx="426.25" cy="235.36" r="1.1" fill="#dde" stroke="#222" stroke-width="0.7"/>
<circle cx="430.45" cy="237.21" r="1.1" fill="#dde" stroke="#222" stroke-width="0.7"/>
<circle cx="427.45" cy="238.5" r="1.1" fill="#dde" stroke="#222" stroke-width="0.7"/>
<circle cx="428.45" cy="229.35" r="1.2" fill="#fff" stroke="#222" stroke-width="0.8"/>
<circle cx="428.45" cy="237.35" r="1.2" fill="#fff" stroke="#222" stroke-width="0.8"/>
<rect x="437.4" y="231" width="7.9" height="16.6" fill="#a3182e"/>
<line x1="441.35" y1="231" x2="441.35" y2="227.1" stroke="#111" stroke-width="0.95"/>
<line x1="438.95" y1="227.1" x2="443.75" y2="227.1" stroke="#111" stroke-width="1.1"/>
<circle cx="439.15" cy="229.83" r="1.2" fill="#1a0608"/>
<circle cx="443.35" cy="233.72" r="1.2" fill="#1a0608"/>
<circle cx="440.35" cy="236.45" r="1.2" fill="#1a0608"/>
<circle cx="441.35" cy="217.47" r="1.25" fill="#111"/>
<circle cx="441.35" cy="229.15" r="1.25" fill="#111"/>
<circle cx="441.35" cy="235.3" r="1.25" fill="#111"/>
<rect x="459.3" y="225.05" width="7.9" height="22.55" fill="#22367c"/>
<line x1="463.25" y1="225.05" x2="463.25" y2="222.38" stroke="#111" stroke-width="0.95"/>
<line x1="460.85" y1="222.38" x2="465.65" y2="222.38" stroke="#111" stroke-width="1.1"/>
<circle cx="461.05" cy="224.25" r="1.1" fill="#dde" stroke="#222" stroke-width="0.7"/>
<circle cx="465.25" cy="226.92" r="1.1" fill="#dde" stroke="#222" stroke-width="0.7"/>
<circle cx="462.25" cy="228.78" r="1.1" fill="#dde" stroke="#222" stroke-width="0.7"/>
<circle cx="461.25" cy="216.23" r="1.2" fill="#fff" stroke="#222" stroke-width="0.8"/>
<circle cx="465.25" cy="216.23" r="1.2" fill="#fff" stroke="#222" stroke-width="0.8"/>
<circle cx="461.25" cy="219.31" r="1.2" fill="#fff" stroke="#222" stroke-width="0.8"/>
<circle cx="465.25" cy="219.31" r="1.2" fill="#fff" stroke="#222" stroke-width="0.8"/>
<circle cx="463.25" cy="221.97" r="1.2" fill="#fff" stroke="#222" stroke-width="0.8"/>
<rect x="472.2" y="227.92" width="7.9" height="19.68" fill="#a3182e"/>
<line x1="476.15" y1="227.92" x2="476.15" y2="224.44" stroke="#111" stroke-width="0.95"/>
<line x1="473.75" y1="224.44" x2="478.55" y2="224.44" stroke="#111" stroke-width="1.1"/>
<circle cx="473.95" cy="226.87" r="1.2" fill="#1a0608"/>
<circle cx="478.15" cy="230.36" r="1.2" fill="#1a0608"/>
<circle cx="475.15" cy="232.8" r="1.2" fill="#1a0608"/>
<circle cx="473.15" cy="217.47" r="1.25" fill="#111"/>
<circle cx="479.15" cy="217.47" r="1.25" fill="#111"/>
<circle cx="476.15" cy="231.2" r="1.25" fill="#111"/>
<rect x="494.1" y="227.92" width="7.9" height="19.68" fill="#22367c"/>
<line x1="498.05" y1="227.92" x2="498.05" y2="223.41" stroke="#111" stroke-width="0.95"/>
<line x1="495.65" y1="223.41" x2="500.45" y2="223.41" stroke="#111" stroke-width="1.1"/>
<circle cx="495.85" cy="226.57" r="1.1" fill="#dde" stroke="#222" stroke-width="0.7"/>
<circle cx="500.05" cy="231.08" r="1.1" fill="#dde" stroke="#222" stroke-width="0.7"/>
<circle cx="497.05" cy="234.23" r="1.1" fill="#dde" stroke="#222" stroke-width="0.7"/>
<circle cx="498.05" cy="203.12" r="1.2" fill="#fff" stroke="#222" stroke-width="0.8"/>
<circle cx="498.05" cy="231.2" r="1.2" fill="#fff" stroke="#222" stroke-width="0.8"/>
<rect x="507" y="227.1" width="7.9" height="20.5" fill="#a3182e"/>
<line x1="510.95" y1="227.1" x2="510.95" y2="218.9" stroke="#111" stroke-width="0.95"/>
<line x1="508.55" y1="218.9" x2="513.35" y2="218.9" stroke="#111" stroke-width="1.1"/>
<circle cx="508.75" cy="224.64" r="1.2" fill="#1a0608"/>
<circle cx="512.95" cy="232.84" r="1.2" fill="#1a0608"/>
<circle cx="509.95" cy="238.58" r="1.2" fill="#1a0608"/>
<circle cx="510.95" cy="196.35" r="1.25" fill="#111"/>
<circle cx="510.95" cy="214.39" r="1.25" fill="#111"/>
<circle cx="510.95" cy="237.35" r="1.25" fill="#111"/>
<path d="M419.5 182.4V247.6H519.8" fill="none" stroke="#000" stroke-width="1.15"/>
<line x1="416.7" y1="247.6" x2="419.5" y2="247.6" stroke="#000" stroke-width="1"/>
<text x="411.5" y="250.35" font-size="8.3" text-anchor="end" fill="#222" color="#222" font-weight="normal" font-style="normal" >0</text>
<line x1="416.7" y1="227.1" x2="419.5" y2="227.1" stroke="#000" stroke-width="1"/>
<text x="411.5" y="229.85" font-size="8.3" text-anchor="end" fill="#222" color="#222" font-weight="normal" font-style="normal" >1</text>
<line x1="416.7" y1="206.6" x2="419.5" y2="206.6" stroke="#000" stroke-width="1"/>
<text x="411.5" y="209.35" font-size="8.3" text-anchor="end" fill="#222" color="#222" font-weight="normal" font-style="normal" >2</text>
<line x1="416.7" y1="186.1" x2="419.5" y2="186.1" stroke="#000" stroke-width="1"/>
<text x="411.5" y="188.85" font-size="8.3" text-anchor="end" fill="#222" color="#222" font-weight="normal" font-style="normal" >3</text>
<line x1="434.9" y1="247.6" x2="434.9" y2="250.2" stroke="#000" stroke-width="0.9"/>
<text x="434.9" y="262.5" font-size="8.5" text-anchor="middle" fill="#1a1a1a" color="#1a1a1a" font-weight="normal" font-style="normal" >SD</text>
<line x1="469.7" y1="247.6" x2="469.7" y2="250.2" stroke="#000" stroke-width="0.9"/>
<text x="469.7" y="262.5" font-size="8.5" text-anchor="middle" fill="#1a1a1a" color="#1a1a1a" font-weight="normal" font-style="normal" >HID</text>
<line x1="504.5" y1="247.6" x2="504.5" y2="250.2" stroke="#000" stroke-width="0.9"/>
<text x="504.5" y="262.5" font-size="8.5" text-anchor="middle" fill="#1a1a1a" color="#1a1a1a" font-weight="normal" font-style="normal" >FAC</text>
<text transform="translate(388.2,215.2) rotate(-90)" font-size="10.1" text-anchor="middle" fill="#1e1e1e" color="#1e1e1e" textLength="43.2" lengthAdjust="spacingAndGlyphs">Serum NTBI</text>
<text transform="translate(401,215.2) rotate(-90)" font-size="10.1" text-anchor="middle" fill="#1e1e1e" color="#1e1e1e" textLength="33" lengthAdjust="spacingAndGlyphs">(µmol/L)</text>
<text x="463.25" y="209.8" font-size="8.2" text-anchor="middle" fill="#2a2a2a" color="#2a2a2a" font-weight="normal" font-style="normal" >a</text>
<line x1="425" y1="190.1" x2="446.5" y2="190.1" stroke="#4a4a4a" stroke-width="1.2"/>
<text x="435.75" y="187.5" font-size="6.4" text-anchor="middle" fill="#222" color="#222" font-weight="normal" font-style="normal" textLength="21.1" lengthAdjust="spacingAndGlyphs"><tspan font-style="italic">P</tspan> &lt; .05</text>
<text x="1.5" y="290.1" font-size="14.2" text-anchor="start" fill="#000" color="#000" font-weight="bold" font-style="normal" stroke="#000" stroke-width="0.35">F</text>
<rect x="70.7" y="345.6" width="7.9" height="17.2" fill="#22367c"/>
<line x1="74.65" y1="345.6" x2="74.65" y2="344.29" stroke="#111" stroke-width="0.95"/>
<line x1="72.25" y1="344.29" x2="77.05" y2="344.29" stroke="#111" stroke-width="1.1"/>
<circle cx="72.45" cy="345.19" r="1.1" fill="#dde" stroke="#222" stroke-width="0.7"/>
<circle cx="76.65" cy="346.56" r="1.1" fill="#dde" stroke="#222" stroke-width="0.7"/>
<circle cx="73.65" cy="347.53" r="1.1" fill="#dde" stroke="#222" stroke-width="0.7"/>
<circle cx="72.65" cy="343.52" r="1.2" fill="#fff" stroke="#222" stroke-width="0.8"/>
<circle cx="76.65" cy="343.9" r="1.2" fill="#fff" stroke="#222" stroke-width="0.8"/>
<circle cx="74.65" cy="345.06" r="1.2" fill="#fff" stroke="#222" stroke-width="0.8"/>
<rect x="83.6" y="343.21" width="7.9" height="19.59" fill="#a3182e"/>
<line x1="87.55" y1="343.21" x2="87.55" y2="339.43" stroke="#111" stroke-width="0.95"/>
<line x1="85.15" y1="339.43" x2="89.95" y2="339.43" stroke="#111" stroke-width="1.1"/>
<circle cx="85.35" cy="342.08" r="1.2" fill="#1a0608"/>
<circle cx="89.55" cy="345.86" r="1.2" fill="#1a0608"/>
<circle cx="86.55" cy="348.5" r="1.2" fill="#1a0608"/>
<circle cx="84.55" cy="334.42" r="1.25" fill="#111"/>
<circle cx="90.55" cy="335.04" r="1.25" fill="#111"/>
<circle cx="87.55" cy="339.66" r="1.25" fill="#111"/>
<circle cx="87.55" cy="345.83" r="1.25" fill="#111"/>
<rect x="105.5" y="344.83" width="7.9" height="17.97" fill="#22367c"/>
<line x1="109.45" y1="344.83" x2="109.45" y2="342.75" stroke="#111" stroke-width="0.95"/>
<line x1="107.05" y1="342.75" x2="111.85" y2="342.75" stroke="#111" stroke-width="1.1"/>
<circle cx="107.25" cy="344.21" r="1.1" fill="#dde" stroke="#222" stroke-width="0.7"/>
<circle cx="111.45" cy="346.29" r="1.1" fill="#dde" stroke="#222" stroke-width="0.7"/>
<circle cx="108.45" cy="347.75" r="1.1" fill="#dde" stroke="#222" stroke-width="0.7"/>
<circle cx="107.45" cy="340.43" r="1.2" fill="#fff" stroke="#222" stroke-width="0.8"/>
<circle cx="111.45" cy="341.21" r="1.2" fill="#fff" stroke="#222" stroke-width="0.8"/>
<circle cx="109.45" cy="341.98" r="1.2" fill="#fff" stroke="#222" stroke-width="0.8"/>
<rect x="118.4" y="334.19" width="7.9" height="28.61" fill="#a3182e"/>
<line x1="122.35" y1="334.19" x2="122.35" y2="330.33" stroke="#111" stroke-width="0.95"/>
<line x1="119.95" y1="330.33" x2="124.75" y2="330.33" stroke="#111" stroke-width="1.1"/>
<circle cx="120.15" cy="333.03" r="1.2" fill="#1a0608"/>
<circle cx="124.35" cy="336.89" r="1.2" fill="#1a0608"/>
<circle cx="121.35" cy="339.59" r="1.2" fill="#1a0608"/>
<circle cx="122.35" cy="324.93" r="1.25" fill="#111"/>
<circle cx="119.35" cy="328.87" r="1.25" fill="#111"/>
<circle cx="125.35" cy="328.87" r="1.25" fill="#111"/>
<circle cx="122.35" cy="339.66" r="1.25" fill="#111"/>
<rect x="140.3" y="336.89" width="7.9" height="25.91" fill="#22367c"/>
<line x1="144.25" y1="336.89" x2="144.25" y2="333.18" stroke="#111" stroke-width="0.95"/>
<line x1="141.85" y1="333.18" x2="146.65" y2="333.18" stroke="#111" stroke-width="1.1"/>
<circle cx="142.05" cy="335.78" r="1.1" fill="#dde" stroke="#222" stroke-width="0.7"/>
<circle cx="146.25" cy="339.48" r="1.1" fill="#dde" stroke="#222" stroke-width="0.7"/>
<circle cx="143.25" cy="342.07" r="1.1" fill="#dde" stroke="#222" stroke-width="0.7"/>
<circle cx="144.25" cy="320.3" r="1.2" fill="#fff" stroke="#222" stroke-width="0.8"/>
<circle cx="142.25" cy="328.63" r="1.2" fill="#fff" stroke="#222" stroke-width="0.8"/>
<circle cx="146.25" cy="328.63" r="1.2" fill="#fff" stroke="#222" stroke-width="0.8"/>
<circle cx="144.25" cy="339.66" r="1.2" fill="#fff" stroke="#222" stroke-width="0.8"/>
<rect x="153.2" y="330.33" width="7.9" height="32.47" fill="#a3182e"/>
<line x1="157.15" y1="330.33" x2="157.15" y2="324.47" stroke="#111" stroke-width="0.95"/>
<line x1="154.75" y1="324.47" x2="159.55" y2="324.47" stroke="#111" stroke-width="1.1"/>
<circle cx="154.95" cy="328.57" r="1.2" fill="#1a0608"/>
<circle cx="159.15" cy="334.43" r="1.2" fill="#1a0608"/>
<circle cx="156.15" cy="338.54" r="1.2" fill="#1a0608"/>
<circle cx="157.15" cy="313.98" r="1.25" fill="#111"/>
<circle cx="157.15" cy="320.3" r="1.25" fill="#111"/>
<circle cx="157.15" cy="331.95" r="1.25" fill="#111"/>
<circle cx="157.15" cy="338.12" r="1.25" fill="#111"/>
<path d="M65.7 297.4V362.8H166" fill="none" stroke="#000" stroke-width="1.15"/>
<line x1="62.9" y1="362.8" x2="65.7" y2="362.8" stroke="#000" stroke-width="1"/>
<text x="57.7" y="365.55" font-size="8.3" text-anchor="end" fill="#222" color="#222" font-weight="normal" font-style="normal" >0</text>
<line x1="62.9" y1="347.38" x2="65.7" y2="347.38" stroke="#000" stroke-width="1"/>
<text x="57.7" y="350.12" font-size="8.3" text-anchor="end" fill="#222" color="#222" font-weight="normal" font-style="normal" >200</text>
<line x1="62.9" y1="331.95" x2="65.7" y2="331.95" stroke="#000" stroke-width="1"/>
<text x="57.7" y="334.7" font-size="8.3" text-anchor="end" fill="#222" color="#222" font-weight="normal" font-style="normal" >400</text>
<line x1="62.9" y1="316.53" x2="65.7" y2="316.53" stroke="#000" stroke-width="1"/>
<text x="57.7" y="319.28" font-size="8.3" text-anchor="end" fill="#222" color="#222" font-weight="normal" font-style="normal" >600</text>
<line x1="62.9" y1="301.1" x2="65.7" y2="301.1" stroke="#000" stroke-width="1"/>
<text x="57.7" y="303.85" font-size="8.3" text-anchor="end" fill="#222" color="#222" font-weight="normal" font-style="normal" >800</text>
<line x1="81.1" y1="362.8" x2="81.1" y2="365.4" stroke="#000" stroke-width="0.9"/>
<text x="81.1" y="377.7" font-size="8.5" text-anchor="middle" fill="#1a1a1a" color="#1a1a1a" font-weight="normal" font-style="normal" >SD</text>
<line x1="115.9" y1="362.8" x2="115.9" y2="365.4" stroke="#000" stroke-width="0.9"/>
<text x="115.9" y="377.7" font-size="8.5" text-anchor="middle" fill="#1a1a1a" color="#1a1a1a" font-weight="normal" font-style="normal" >HID</text>
<line x1="150.7" y1="362.8" x2="150.7" y2="365.4" stroke="#000" stroke-width="0.9"/>
<text x="150.7" y="377.7" font-size="8.5" text-anchor="middle" fill="#1a1a1a" color="#1a1a1a" font-weight="normal" font-style="normal" >FAC</text>
<text transform="translate(25.9,330) rotate(-90)" font-size="10.1" text-anchor="middle" fill="#1e1e1e" color="#1e1e1e" textLength="43.8" lengthAdjust="spacingAndGlyphs">LIC (µg Fe/g</text>
<text transform="translate(38.4,330) rotate(-90)" font-size="10.1" text-anchor="middle" fill="#1e1e1e" color="#1e1e1e" textLength="38.6" lengthAdjust="spacingAndGlyphs">dry tissue)</text>
<text x="122.35" y="319.4" font-size="8.2" text-anchor="middle" fill="#2a2a2a" color="#2a2a2a" font-weight="normal" font-style="normal" >b</text>
<text x="144.25" y="316.9" font-size="8.2" text-anchor="middle" fill="#2a2a2a" color="#2a2a2a" font-weight="normal" font-style="normal" >a</text>
<text x="157.15" y="309.6" font-size="8.2" text-anchor="middle" fill="#2a2a2a" color="#2a2a2a" font-weight="normal" font-style="normal" >b</text>
<line x1="105" y1="305.1" x2="125.8" y2="305.1" stroke="#4a4a4a" stroke-width="1.2"/>
<text x="115.4" y="302.5" font-size="6.4" text-anchor="middle" fill="#222" color="#222" font-weight="normal" font-style="normal" textLength="20.4" lengthAdjust="spacingAndGlyphs"><tspan font-style="italic">P</tspan> &lt; .01</text>
<text x="184.5" y="290.1" font-size="14.2" text-anchor="start" fill="#000" color="#000" font-weight="bold" font-style="normal" stroke="#000" stroke-width="0.35">G</text>
<rect x="241.5" y="362.27" width="7.9" height="9.23" fill="#22367c"/>
<line x1="245.45" y1="362.27" x2="245.45" y2="356.12" stroke="#111" stroke-width="0.95"/>
<line x1="243.05" y1="356.12" x2="247.85" y2="356.12" stroke="#111" stroke-width="1.1"/>
<circle cx="243.25" cy="360.43" r="1.1" fill="#dde" stroke="#222" stroke-width="0.7"/>
<circle cx="247.45" cy="366.58" r="1.1" fill="#dde" stroke="#222" stroke-width="0.7"/>
<circle cx="244.45" cy="370.88" r="1.1" fill="#dde" stroke="#222" stroke-width="0.7"/>
<circle cx="242.45" cy="356.12" r="1.2" fill="#fff" stroke="#222" stroke-width="0.8"/>
<circle cx="248.45" cy="356.12" r="1.2" fill="#fff" stroke="#222" stroke-width="0.8"/>
<circle cx="245.45" cy="365.35" r="1.2" fill="#fff" stroke="#222" stroke-width="0.8"/>
<rect x="254.4" y="356.12" width="7.9" height="15.38" fill="#a3182e"/>
<line x1="258.35" y1="356.12" x2="258.35" y2="344.85" stroke="#111" stroke-width="0.95"/>
<line x1="255.95" y1="344.85" x2="260.75" y2="344.85" stroke="#111" stroke-width="1.1"/>
<circle cx="256.15" cy="352.74" r="1.2" fill="#1a0608"/>
<circle cx="260.35" cy="364.02" r="1.2" fill="#1a0608"/>
<circle cx="258.35" cy="338.7" r="1.25" fill="#111"/>
<circle cx="256.35" cy="349.98" r="1.25" fill="#111"/>
<circle cx="260.35" cy="349.98" r="1.25" fill="#111"/>
<circle cx="258.35" cy="361.25" r="1.25" fill="#111"/>
<rect x="276.3" y="356.12" width="7.9" height="15.38" fill="#22367c"/>
<line x1="280.25" y1="356.12" x2="280.25" y2="352.02" stroke="#111" stroke-width="0.95"/>
<line x1="277.85" y1="352.02" x2="282.65" y2="352.02" stroke="#111" stroke-width="1.1"/>
<circle cx="278.05" cy="354.89" r="1.1" fill="#dde" stroke="#222" stroke-width="0.7"/>
<circle cx="282.25" cy="359" r="1.1" fill="#dde" stroke="#222" stroke-width="0.7"/>
<circle cx="279.25" cy="361.87" r="1.1" fill="#dde" stroke="#222" stroke-width="0.7"/>
<circle cx="280.25" cy="345.88" r="1.2" fill="#fff" stroke="#222" stroke-width="0.8"/>
<circle cx="278.25" cy="352.02" r="1.2" fill="#fff" stroke="#222" stroke-width="0.8"/>
<circle cx="282.25" cy="352.02" r="1.2" fill="#fff" stroke="#222" stroke-width="0.8"/>
<circle cx="280.25" cy="357.15" r="1.2" fill="#fff" stroke="#222" stroke-width="0.8"/>
<rect x="289.2" y="346.9" width="7.9" height="24.6" fill="#a3182e"/>
<line x1="293.15" y1="346.9" x2="293.15" y2="335.62" stroke="#111" stroke-width="0.95"/>
<line x1="290.75" y1="335.62" x2="295.55" y2="335.62" stroke="#111" stroke-width="1.1"/>
<circle cx="290.95" cy="343.52" r="1.2" fill="#1a0608"/>
<circle cx="295.15" cy="354.79" r="1.2" fill="#1a0608"/>
<circle cx="292.15" cy="362.69" r="1.2" fill="#1a0608"/>
<circle cx="293.15" cy="328.45" r="1.25" fill="#111"/>
<circle cx="293.15" cy="338.7" r="1.25" fill="#111"/>
<circle cx="293.15" cy="351" r="1.25" fill="#111"/>
<rect x="311.1" y="328.45" width="7.9" height="43.05" fill="#22367c"/>
<line x1="315.05" y1="328.45" x2="315.05" y2="316.15" stroke="#111" stroke-width="0.95"/>
<line x1="312.65" y1="316.15" x2="317.45" y2="316.15" stroke="#111" stroke-width="1.1"/>
<circle cx="312.85" cy="324.76" r="1.1" fill="#dde" stroke="#222" stroke-width="0.7"/>
<circle cx="317.05" cy="337.06" r="1.1" fill="#dde" stroke="#222" stroke-width="0.7"/>
<circle cx="314.05" cy="345.67" r="1.1" fill="#dde" stroke="#222" stroke-width="0.7"/>
<circle cx="312.05" cy="327.43" r="1.2" fill="#fff" stroke="#222" stroke-width="0.8"/>
<circle cx="318.05" cy="327.43" r="1.2" fill="#fff" stroke="#222" stroke-width="0.8"/>
<circle cx="315.05" cy="320.25" r="1.2" fill="#fff" stroke="#222" stroke-width="0.8"/>
<circle cx="315.05" cy="323.32" r="1.2" fill="#fff" stroke="#222" stroke-width="0.8"/>
<rect x="324" y="355.41" width="7.9" height="16.09" fill="#a3182e"/>
<line x1="327.95" y1="355.41" x2="327.95" y2="338.7" stroke="#111" stroke-width="0.95"/>
<line x1="325.55" y1="338.7" x2="330.35" y2="338.7" stroke="#111" stroke-width="1.1"/>
<circle cx="325.75" cy="350.4" r="1.2" fill="#1a0608"/>
<circle cx="329.95" cy="367.1" r="1.2" fill="#1a0608"/>
<circle cx="327.95" cy="345.88" r="1.25" fill="#111"/>
<circle cx="327.95" cy="359.2" r="1.25" fill="#111"/>
<path d="M236.5 306.3V371.5H336.8" fill="none" stroke="#000" stroke-width="1.15"/>
<line x1="233.7" y1="371.5" x2="236.5" y2="371.5" stroke="#000" stroke-width="1"/>
<text x="228.5" y="374.25" font-size="8.3" text-anchor="end" fill="#222" color="#222" font-weight="normal" font-style="normal" >0</text>
<line x1="233.7" y1="351" x2="236.5" y2="351" stroke="#000" stroke-width="1"/>
<text x="228.5" y="353.75" font-size="8.3" text-anchor="end" fill="#222" color="#222" font-weight="normal" font-style="normal" >2</text>
<line x1="233.7" y1="330.5" x2="236.5" y2="330.5" stroke="#000" stroke-width="1"/>
<text x="228.5" y="333.25" font-size="8.3" text-anchor="end" fill="#222" color="#222" font-weight="normal" font-style="normal" >4</text>
<line x1="233.7" y1="310" x2="236.5" y2="310" stroke="#000" stroke-width="1"/>
<text x="228.5" y="312.75" font-size="8.3" text-anchor="end" fill="#222" color="#222" font-weight="normal" font-style="normal" >6</text>
<line x1="251.9" y1="371.5" x2="251.9" y2="374.1" stroke="#000" stroke-width="0.9"/>
<text x="251.9" y="386.4" font-size="8.5" text-anchor="middle" fill="#1a1a1a" color="#1a1a1a" font-weight="normal" font-style="normal" >SD</text>
<line x1="286.7" y1="371.5" x2="286.7" y2="374.1" stroke="#000" stroke-width="0.9"/>
<text x="286.7" y="386.4" font-size="8.5" text-anchor="middle" fill="#1a1a1a" color="#1a1a1a" font-weight="normal" font-style="normal" >HID</text>
<line x1="321.5" y1="371.5" x2="321.5" y2="374.1" stroke="#000" stroke-width="0.9"/>
<text x="321.5" y="386.4" font-size="8.5" text-anchor="middle" fill="#1a1a1a" color="#1a1a1a" font-weight="normal" font-style="normal" >FAC</text>
<text transform="translate(205.1,338.5) rotate(-90)" font-size="10.1" text-anchor="middle" fill="#1e1e1e" color="#1e1e1e" textLength="72.8" lengthAdjust="spacingAndGlyphs"><tspan font-style="italic">Bmp6/Rpl19</tspan> mRNA</text>
<text transform="translate(217.4,338.5) rotate(-90)" font-size="10.1" text-anchor="middle" fill="#1e1e1e" color="#1e1e1e" textLength="58.7" lengthAdjust="spacingAndGlyphs">(fold induction)</text>
<text x="280.25" y="339.6" font-size="8.2" text-anchor="middle" fill="#2a2a2a" color="#2a2a2a" font-weight="normal" font-style="normal" >a</text>
<text x="315.05" y="313" font-size="8.2" text-anchor="middle" fill="#2a2a2a" color="#2a2a2a" font-weight="normal" font-style="normal" >a</text>
<line x1="276" y1="304.5" x2="296.9" y2="304.5" stroke="#4a4a4a" stroke-width="1.2"/>
<text x="286.45" y="301.9" font-size="6.4" text-anchor="middle" fill="#222" color="#222" font-weight="normal" font-style="normal" textLength="20.5" lengthAdjust="spacingAndGlyphs"><tspan font-style="italic">P</tspan> &lt; .01</text>
<line x1="311.7" y1="304.5" x2="332.6" y2="304.5" stroke="#4a4a4a" stroke-width="1.2"/>
<text x="322.15" y="301.9" font-size="6.4" text-anchor="middle" fill="#222" color="#222" font-weight="normal" font-style="normal" textLength="20.5" lengthAdjust="spacingAndGlyphs"><tspan font-style="italic">P</tspan> &lt; .01</text>
<text x="366.5" y="290.1" font-size="14.2" text-anchor="start" fill="#000" color="#000" font-weight="bold" font-style="normal" stroke="#000" stroke-width="0.35">H</text>
<rect x="424.2" y="360.43" width="7.9" height="11.07" fill="#22367c"/>
<line x1="428.15" y1="360.43" x2="428.15" y2="350.96" stroke="#111" stroke-width="0.95"/>
<line x1="425.75" y1="350.96" x2="430.55" y2="350.96" stroke="#111" stroke-width="1.1"/>
<circle cx="425.95" cy="357.59" r="1.1" fill="#dde" stroke="#222" stroke-width="0.7"/>
<circle cx="430.15" cy="367.06" r="1.1" fill="#dde" stroke="#222" stroke-width="0.7"/>
<circle cx="425.15" cy="349.61" r="1.2" fill="#fff" stroke="#222" stroke-width="0.8"/>
<circle cx="431.15" cy="349.61" r="1.2" fill="#fff" stroke="#222" stroke-width="0.8"/>
<circle cx="428.15" cy="364.12" r="1.2" fill="#fff" stroke="#222" stroke-width="0.8"/>
<rect x="437.1" y="350.96" width="7.9" height="20.54" fill="#a3182e"/>
<line x1="441.05" y1="350.96" x2="441.05" y2="331.65" stroke="#111" stroke-width="0.95"/>
<line x1="438.65" y1="331.65" x2="443.45" y2="331.65" stroke="#111" stroke-width="1.1"/>
<circle cx="438.85" cy="345.17" r="1.2" fill="#1a0608"/>
<circle cx="443.05" cy="364.48" r="1.2" fill="#1a0608"/>
<circle cx="441.05" cy="322.3" r="1.25" fill="#111"/>
<circle cx="441.05" cy="333.37" r="1.25" fill="#111"/>
<circle cx="441.05" cy="356.74" r="1.25" fill="#111"/>
<rect x="459" y="354.4" width="7.9" height="17.1" fill="#22367c"/>
<line x1="462.95" y1="354.4" x2="462.95" y2="338.04" stroke="#111" stroke-width="0.95"/>
<line x1="460.55" y1="338.04" x2="465.35" y2="338.04" stroke="#111" stroke-width="1.1"/>
<circle cx="460.75" cy="349.5" r="1.1" fill="#dde" stroke="#222" stroke-width="0.7"/>
<circle cx="464.95" cy="365.85" r="1.1" fill="#dde" stroke="#222" stroke-width="0.7"/>
<circle cx="462.95" cy="329.68" r="1.2" fill="#fff" stroke="#222" stroke-width="0.8"/>
<circle cx="462.95" cy="333.99" r="1.2" fill="#fff" stroke="#222" stroke-width="0.8"/>
<circle cx="462.95" cy="346.9" r="1.2" fill="#fff" stroke="#222" stroke-width="0.8"/>
<circle cx="462.95" cy="356.74" r="1.2" fill="#fff" stroke="#222" stroke-width="0.8"/>
<rect x="471.9" y="346.04" width="7.9" height="25.46" fill="#a3182e"/>
<line x1="475.85" y1="346.04" x2="475.85" y2="325.62" stroke="#111" stroke-width="0.95"/>
<line x1="473.45" y1="325.62" x2="478.25" y2="325.62" stroke="#111" stroke-width="1.1"/>
<circle cx="473.65" cy="339.91" r="1.2" fill="#1a0608"/>
<circle cx="477.85" cy="360.33" r="1.2" fill="#1a0608"/>
<circle cx="472.85" cy="321.07" r="1.25" fill="#111"/>
<circle cx="478.85" cy="321.07" r="1.25" fill="#111"/>
<circle cx="473.85" cy="337.06" r="1.25" fill="#111"/>
<circle cx="477.85" cy="346.9" r="1.25" fill="#111"/>
<rect x="493.8" y="341" width="7.9" height="30.5" fill="#22367c"/>
<line x1="497.75" y1="341" x2="497.75" y2="334.6" stroke="#111" stroke-width="0.95"/>
<line x1="495.35" y1="334.6" x2="500.15" y2="334.6" stroke="#111" stroke-width="1.1"/>
<circle cx="495.55" cy="339.08" r="1.1" fill="#dde" stroke="#222" stroke-width="0.7"/>
<circle cx="499.75" cy="345.47" r="1.1" fill="#dde" stroke="#222" stroke-width="0.7"/>
<circle cx="496.75" cy="349.95" r="1.1" fill="#dde" stroke="#222" stroke-width="0.7"/>
<circle cx="497.75" cy="330.05" r="1.2" fill="#fff" stroke="#222" stroke-width="0.8"/>
<circle cx="494.75" cy="338.29" r="1.2" fill="#fff" stroke="#222" stroke-width="0.8"/>
<circle cx="500.75" cy="338.29" r="1.2" fill="#fff" stroke="#222" stroke-width="0.8"/>
<rect x="506.7" y="353.05" width="7.9" height="18.45" fill="#a3182e"/>
<line x1="510.65" y1="353.05" x2="510.65" y2="337.55" stroke="#111" stroke-width="0.95"/>
<line x1="508.25" y1="337.55" x2="513.05" y2="337.55" stroke="#111" stroke-width="1.1"/>
<circle cx="508.45" cy="348.4" r="1.2" fill="#1a0608"/>
<circle cx="512.65" cy="363.9" r="1.2" fill="#1a0608"/>
<circle cx="510.65" cy="346.9" r="1.25" fill="#111"/>
<circle cx="510.65" cy="359.2" r="1.25" fill="#111"/>
<path d="M419.2 306.3V371.5H519.5" fill="none" stroke="#000" stroke-width="1.15"/>
<line x1="416.4" y1="371.5" x2="419.2" y2="371.5" stroke="#000" stroke-width="1"/>
<text x="411.2" y="374.25" font-size="8.3" text-anchor="end" fill="#222" color="#222" font-weight="normal" font-style="normal" >0</text>
<line x1="416.4" y1="359.2" x2="419.2" y2="359.2" stroke="#000" stroke-width="1"/>
<text x="411.2" y="361.95" font-size="8.3" text-anchor="end" fill="#222" color="#222" font-weight="normal" font-style="normal" >1</text>
<line x1="416.4" y1="346.9" x2="419.2" y2="346.9" stroke="#000" stroke-width="1"/>
<text x="411.2" y="349.65" font-size="8.3" text-anchor="end" fill="#222" color="#222" font-weight="normal" font-style="normal" >2</text>
<line x1="416.4" y1="334.6" x2="419.2" y2="334.6" stroke="#000" stroke-width="1"/>
<text x="411.2" y="337.35" font-size="8.3" text-anchor="end" fill="#222" color="#222" font-weight="normal" font-style="normal" >3</text>
<line x1="416.4" y1="322.3" x2="419.2" y2="322.3" stroke="#000" stroke-width="1"/>
<text x="411.2" y="325.05" font-size="8.3" text-anchor="end" fill="#222" color="#222" font-weight="normal" font-style="normal" >4</text>
<line x1="416.4" y1="310" x2="419.2" y2="310" stroke="#000" stroke-width="1"/>
<text x="411.2" y="312.75" font-size="8.3" text-anchor="end" fill="#222" color="#222" font-weight="normal" font-style="normal" >5</text>
<line x1="434.6" y1="371.5" x2="434.6" y2="374.1" stroke="#000" stroke-width="0.9"/>
<text x="434.6" y="386.4" font-size="8.5" text-anchor="middle" fill="#1a1a1a" color="#1a1a1a" font-weight="normal" font-style="normal" >SD</text>
<line x1="469.4" y1="371.5" x2="469.4" y2="374.1" stroke="#000" stroke-width="0.9"/>
<text x="469.4" y="386.4" font-size="8.5" text-anchor="middle" fill="#1a1a1a" color="#1a1a1a" font-weight="normal" font-style="normal" >HID</text>
<line x1="504.2" y1="371.5" x2="504.2" y2="374.1" stroke="#000" stroke-width="0.9"/>
<text x="504.2" y="386.4" font-size="8.5" text-anchor="middle" fill="#1a1a1a" color="#1a1a1a" font-weight="normal" font-style="normal" >FAC</text>
<text transform="translate(388.1,338.5) rotate(-90)" font-size="10.1" text-anchor="middle" fill="#1e1e1e" color="#1e1e1e" textLength="72.2" lengthAdjust="spacingAndGlyphs"><tspan font-style="italic">Bmp2/Rpl19</tspan> mRNA</text>
<text transform="translate(400.4,338.5) rotate(-90)" font-size="10.1" text-anchor="middle" fill="#1e1e1e" color="#1e1e1e" textLength="58.7" lengthAdjust="spacingAndGlyphs">(fold induction)</text>
<text x="497.75" y="323.8" font-size="8.2" text-anchor="middle" fill="#2a2a2a" color="#2a2a2a" font-weight="normal" font-style="normal" >a</text>
<text x="5.5" y="417.9" font-size="14.2" text-anchor="start" fill="#000" color="#000" font-weight="bold" font-style="normal" stroke="#000" stroke-width="0.35">I</text>
<rect x="70.4" y="486.58" width="7.9" height="9.12" fill="#22367c"/>
<line x1="74.35" y1="486.58" x2="74.35" y2="480.36" stroke="#111" stroke-width="0.95"/>
<line x1="71.95" y1="480.36" x2="76.75" y2="480.36" stroke="#111" stroke-width="1.1"/>
<circle cx="72.15" cy="484.71" r="1.1" fill="#dde" stroke="#222" stroke-width="0.7"/>
<circle cx="76.35" cy="490.93" r="1.1" fill="#dde" stroke="#222" stroke-width="0.7"/>
<circle cx="73.35" cy="495.29" r="1.1" fill="#dde" stroke="#222" stroke-width="0.7"/>
<circle cx="74.35" cy="475.17" r="1.2" fill="#fff" stroke="#222" stroke-width="0.8"/>
<circle cx="72.35" cy="483.26" r="1.2" fill="#fff" stroke="#222" stroke-width="0.8"/>
<circle cx="76.35" cy="483.26" r="1.2" fill="#fff" stroke="#222" stroke-width="0.8"/>
<rect x="83.3" y="479.84" width="7.9" height="15.86" fill="#a3182e"/>
<line x1="87.25" y1="479.84" x2="87.25" y2="472.48" stroke="#111" stroke-width="0.95"/>
<line x1="84.85" y1="472.48" x2="89.65" y2="472.48" stroke="#111" stroke-width="1.1"/>
<circle cx="85.05" cy="477.63" r="1.2" fill="#1a0608"/>
<circle cx="89.25" cy="484.99" r="1.2" fill="#1a0608"/>
<circle cx="86.25" cy="490.14" r="1.2" fill="#1a0608"/>
<circle cx="87.25" cy="461.7" r="1.25" fill="#111"/>
<circle cx="87.25" cy="480.15" r="1.25" fill="#111"/>
<rect x="105.2" y="469.37" width="7.9" height="26.33" fill="#22367c"/>
<line x1="109.15" y1="469.37" x2="109.15" y2="464.81" stroke="#111" stroke-width="0.95"/>
<line x1="106.75" y1="464.81" x2="111.55" y2="464.81" stroke="#111" stroke-width="1.1"/>
<circle cx="106.95" cy="468" r="1.1" fill="#dde" stroke="#222" stroke-width="0.7"/>
<circle cx="111.15" cy="472.56" r="1.1" fill="#dde" stroke="#222" stroke-width="0.7"/>
<circle cx="108.15" cy="475.75" r="1.1" fill="#dde" stroke="#222" stroke-width="0.7"/>
<circle cx="109.15" cy="460.66" r="1.2" fill="#fff" stroke="#222" stroke-width="0.8"/>
<circle cx="107.15" cy="466.67" r="1.2" fill="#fff" stroke="#222" stroke-width="0.8"/>
<circle cx="111.15" cy="466.67" r="1.2" fill="#fff" stroke="#222" stroke-width="0.8"/>
<rect x="118.1" y="469.37" width="7.9" height="26.33" fill="#a3182e"/>
<line x1="122.05" y1="469.37" x2="122.05" y2="460.35" stroke="#111" stroke-width="0.95"/>
<line x1="119.65" y1="460.35" x2="124.45" y2="460.35" stroke="#111" stroke-width="1.1"/>
<circle cx="119.85" cy="466.66" r="1.2" fill="#1a0608"/>
<circle cx="124.05" cy="475.68" r="1.2" fill="#1a0608"/>
<circle cx="121.05" cy="482" r="1.2" fill="#1a0608"/>
<circle cx="119.05" cy="457.65" r="1.25" fill="#111"/>
<circle cx="125.05" cy="457.65" r="1.25" fill="#111"/>
<circle cx="122.05" cy="469.78" r="1.25" fill="#111"/>
<rect x="140" y="461.7" width="7.9" height="34" fill="#22367c"/>
<line x1="143.95" y1="461.7" x2="143.95" y2="452.37" stroke="#111" stroke-width="0.95"/>
<line x1="141.55" y1="452.37" x2="146.35" y2="452.37" stroke="#111" stroke-width="1.1"/>
<circle cx="141.75" cy="458.9" r="1.1" fill="#dde" stroke="#222" stroke-width="0.7"/>
<circle cx="145.95" cy="468.23" r="1.1" fill="#dde" stroke="#222" stroke-width="0.7"/>
<circle cx="142.95" cy="474.76" r="1.1" fill="#dde" stroke="#222" stroke-width="0.7"/>
<circle cx="143.95" cy="442" r="1.2" fill="#fff" stroke="#222" stroke-width="0.8"/>
<circle cx="140.95" cy="461.49" r="1.2" fill="#fff" stroke="#222" stroke-width="0.8"/>
<circle cx="146.95" cy="461.49" r="1.2" fill="#fff" stroke="#222" stroke-width="0.8"/>
<rect x="152.9" y="468.02" width="7.9" height="27.68" fill="#a3182e"/>
<line x1="156.85" y1="468.02" x2="156.85" y2="455.48" stroke="#111" stroke-width="0.95"/>
<line x1="154.45" y1="455.48" x2="159.25" y2="455.48" stroke="#111" stroke-width="1.1"/>
<circle cx="154.65" cy="464.26" r="1.2" fill="#1a0608"/>
<circle cx="158.85" cy="476.8" r="1.2" fill="#1a0608"/>
<circle cx="155.85" cy="485.58" r="1.2" fill="#1a0608"/>
<circle cx="156.85" cy="460.45" r="1.25" fill="#111"/>
<circle cx="156.85" cy="474.97" r="1.25" fill="#111"/>
<path d="M65.4 429.8V495.7H165.7" fill="none" stroke="#000" stroke-width="1.15"/>
<line x1="62.6" y1="495.7" x2="65.4" y2="495.7" stroke="#000" stroke-width="1"/>
<text x="57.4" y="498.45" font-size="8.3" text-anchor="end" fill="#222" color="#222" font-weight="normal" font-style="normal" >0</text>
<line x1="62.6" y1="474.97" x2="65.4" y2="474.97" stroke="#000" stroke-width="1"/>
<text x="57.4" y="477.72" font-size="8.3" text-anchor="end" fill="#222" color="#222" font-weight="normal" font-style="normal" >2</text>
<line x1="62.6" y1="454.23" x2="65.4" y2="454.23" stroke="#000" stroke-width="1"/>
<text x="57.4" y="456.98" font-size="8.3" text-anchor="end" fill="#222" color="#222" font-weight="normal" font-style="normal" >4</text>
<line x1="62.6" y1="433.5" x2="65.4" y2="433.5" stroke="#000" stroke-width="1"/>
<text x="57.4" y="436.25" font-size="8.3" text-anchor="end" fill="#222" color="#222" font-weight="normal" font-style="normal" >6</text>
<line x1="80.8" y1="495.7" x2="80.8" y2="498.3" stroke="#000" stroke-width="0.9"/>
<text x="80.8" y="510.6" font-size="8.5" text-anchor="middle" fill="#1a1a1a" color="#1a1a1a" font-weight="normal" font-style="normal" >SD</text>
<line x1="115.6" y1="495.7" x2="115.6" y2="498.3" stroke="#000" stroke-width="0.9"/>
<text x="115.6" y="510.6" font-size="8.5" text-anchor="middle" fill="#1a1a1a" color="#1a1a1a" font-weight="normal" font-style="normal" >HID</text>
<line x1="150.4" y1="495.7" x2="150.4" y2="498.3" stroke="#000" stroke-width="0.9"/>
<text x="150.4" y="510.6" font-size="8.5" text-anchor="middle" fill="#1a1a1a" color="#1a1a1a" font-weight="normal" font-style="normal" >FAC</text>
<text transform="translate(34.5,462.5) rotate(-90)" font-size="10.1" text-anchor="middle" fill="#1e1e1e" color="#1e1e1e" textLength="73" lengthAdjust="spacingAndGlyphs"><tspan font-style="italic">Hamp/Rpl19</tspan> mRNA</text>
<text transform="translate(46.7,462.5) rotate(-90)" font-size="10.1" text-anchor="middle" fill="#1e1e1e" color="#1e1e1e" textLength="58.7" lengthAdjust="spacingAndGlyphs">(fold induction)</text>
<text x="109.15" y="448.4" font-size="8.2" text-anchor="middle" fill="#2a2a2a" color="#2a2a2a" font-weight="normal" font-style="normal" >a</text>
<text x="122.05" y="444.2" font-size="8.2" text-anchor="middle" fill="#2a2a2a" color="#2a2a2a" font-weight="normal" font-style="normal" >b</text>
<text x="143.95" y="439" font-size="8.2" text-anchor="middle" fill="#2a2a2a" color="#2a2a2a" font-weight="normal" font-style="normal" >a</text>
<text x="156.85" y="450" font-size="8.2" text-anchor="middle" fill="#2a2a2a" color="#2a2a2a" font-weight="normal" font-style="normal" >b</text>
<text x="187.5" y="418.6" font-size="14.2" text-anchor="start" fill="#000" color="#000" font-weight="bold" font-style="normal" stroke="#000" stroke-width="0.35">J</text>
<rect x="241.5" y="488.01" width="7.9" height="7.69" fill="#22367c"/>
<line x1="245.45" y1="488.01" x2="245.45" y2="479.56" stroke="#111" stroke-width="0.95"/>
<line x1="243.05" y1="479.56" x2="247.85" y2="479.56" stroke="#111" stroke-width="1.1"/>
<circle cx="243.25" cy="485.48" r="1.1" fill="#dde" stroke="#222" stroke-width="0.7"/>
<circle cx="247.45" cy="493.93" r="1.1" fill="#dde" stroke="#222" stroke-width="0.7"/>
<circle cx="245.45" cy="474.18" r="1.2" fill="#fff" stroke="#222" stroke-width="0.8"/>
<circle cx="242.45" cy="485.71" r="1.2" fill="#fff" stroke="#222" stroke-width="0.8"/>
<circle cx="248.45" cy="485.71" r="1.2" fill="#fff" stroke="#222" stroke-width="0.8"/>
<rect x="254.4" y="476.87" width="7.9" height="18.83" fill="#a3182e"/>
<line x1="258.35" y1="476.87" x2="258.35" y2="464.41" stroke="#111" stroke-width="0.95"/>
<line x1="255.95" y1="464.41" x2="260.75" y2="464.41" stroke="#111" stroke-width="1.1"/>
<circle cx="256.15" cy="473.13" r="1.2" fill="#1a0608"/>
<circle cx="260.35" cy="485.58" r="1.2" fill="#1a0608"/>
<circle cx="257.35" cy="494.3" r="1.2" fill="#1a0608"/>
<circle cx="255.35" cy="466.49" r="1.25" fill="#111"/>
<circle cx="261.35" cy="469.56" r="1.25" fill="#111"/>
<circle cx="258.35" cy="484.17" r="1.25" fill="#111"/>
<rect x="276.3" y="473.41" width="7.9" height="22.29" fill="#22367c"/>
<line x1="280.25" y1="473.41" x2="280.25" y2="450.34" stroke="#111" stroke-width="0.95"/>
<line x1="277.85" y1="450.34" x2="282.65" y2="450.34" stroke="#111" stroke-width="1.1"/>
<circle cx="278.05" cy="466.49" r="1.1" fill="#dde" stroke="#222" stroke-width="0.7"/>
<circle cx="282.25" cy="489.55" r="1.1" fill="#dde" stroke="#222" stroke-width="0.7"/>
<circle cx="280.25" cy="439.97" r="1.2" fill="#fff" stroke="#222" stroke-width="0.8"/>
<circle cx="277.25" cy="453.42" r="1.2" fill="#fff" stroke="#222" stroke-width="0.8"/>
<circle cx="283.25" cy="455.72" r="1.2" fill="#fff" stroke="#222" stroke-width="0.8"/>
<circle cx="277.25" cy="464.95" r="1.2" fill="#fff" stroke="#222" stroke-width="0.8"/>
<circle cx="283.25" cy="470.33" r="1.2" fill="#fff" stroke="#222" stroke-width="0.8"/>
<rect x="289.2" y="463.41" width="7.9" height="32.29" fill="#a3182e"/>
<line x1="293.15" y1="463.41" x2="293.15" y2="450.34" stroke="#111" stroke-width="0.95"/>
<line x1="290.75" y1="450.34" x2="295.55" y2="450.34" stroke="#111" stroke-width="1.1"/>
<circle cx="290.95" cy="459.49" r="1.2" fill="#1a0608"/>
<circle cx="295.15" cy="472.56" r="1.2" fill="#1a0608"/>
<circle cx="292.15" cy="481.71" r="1.2" fill="#1a0608"/>
<circle cx="293.15" cy="441.12" r="1.25" fill="#111"/>
<circle cx="290.15" cy="457.26" r="1.25" fill="#111"/>
<circle cx="296.15" cy="457.26" r="1.25" fill="#111"/>
<rect x="311.1" y="473.41" width="7.9" height="22.29" fill="#22367c"/>
<line x1="315.05" y1="473.41" x2="315.05" y2="465.33" stroke="#111" stroke-width="0.95"/>
<line x1="312.65" y1="465.33" x2="317.45" y2="465.33" stroke="#111" stroke-width="1.1"/>
<circle cx="312.85" cy="470.98" r="1.1" fill="#dde" stroke="#222" stroke-width="0.7"/>
<circle cx="317.05" cy="479.06" r="1.1" fill="#dde" stroke="#222" stroke-width="0.7"/>
<circle cx="314.05" cy="484.71" r="1.1" fill="#dde" stroke="#222" stroke-width="0.7"/>
<circle cx="312.05" cy="465.33" r="1.2" fill="#fff" stroke="#222" stroke-width="0.8"/>
<circle cx="318.05" cy="465.33" r="1.2" fill="#fff" stroke="#222" stroke-width="0.8"/>
<circle cx="315.05" cy="472.64" r="1.2" fill="#fff" stroke="#222" stroke-width="0.8"/>
<rect x="324" y="474.18" width="7.9" height="21.52" fill="#a3182e"/>
<line x1="327.95" y1="474.18" x2="327.95" y2="471.1" stroke="#111" stroke-width="0.95"/>
<line x1="325.55" y1="471.1" x2="330.35" y2="471.1" stroke="#111" stroke-width="1.1"/>
<circle cx="325.75" cy="473.25" r="1.2" fill="#1a0608"/>
<circle cx="329.95" cy="476.33" r="1.2" fill="#1a0608"/>
<circle cx="326.95" cy="478.48" r="1.2" fill="#1a0608"/>
<circle cx="325.95" cy="471.87" r="1.25" fill="#111"/>
<circle cx="329.95" cy="471.87" r="1.25" fill="#111"/>
<path d="M236.5 430.5V495.7H336.8" fill="none" stroke="#000" stroke-width="1.15"/>
<line x1="233.7" y1="495.7" x2="236.5" y2="495.7" stroke="#000" stroke-width="1"/>
<text x="228.5" y="498.45" font-size="8.3" text-anchor="end" fill="#222" color="#222" font-weight="normal" font-style="normal" >0</text>
<line x1="233.7" y1="480.32" x2="236.5" y2="480.32" stroke="#000" stroke-width="1"/>
<text x="228.5" y="483.07" font-size="8.3" text-anchor="end" fill="#222" color="#222" font-weight="normal" font-style="normal" >2</text>
<line x1="233.7" y1="464.95" x2="236.5" y2="464.95" stroke="#000" stroke-width="1"/>
<text x="228.5" y="467.7" font-size="8.3" text-anchor="end" fill="#222" color="#222" font-weight="normal" font-style="normal" >4</text>
<line x1="233.7" y1="449.57" x2="236.5" y2="449.57" stroke="#000" stroke-width="1"/>
<text x="228.5" y="452.32" font-size="8.3" text-anchor="end" fill="#222" color="#222" font-weight="normal" font-style="normal" >6</text>
<line x1="233.7" y1="434.2" x2="236.5" y2="434.2" stroke="#000" stroke-width="1"/>
<text x="228.5" y="436.95" font-size="8.3" text-anchor="end" fill="#222" color="#222" font-weight="normal" font-style="normal" >8</text>
<line x1="251.9" y1="495.7" x2="251.9" y2="498.3" stroke="#000" stroke-width="0.9"/>
<text x="251.9" y="510.6" font-size="8.5" text-anchor="middle" fill="#1a1a1a" color="#1a1a1a" font-weight="normal" font-style="normal" >SD</text>
<line x1="286.7" y1="495.7" x2="286.7" y2="498.3" stroke="#000" stroke-width="0.9"/>
<text x="286.7" y="510.6" font-size="8.5" text-anchor="middle" fill="#1a1a1a" color="#1a1a1a" font-weight="normal" font-style="normal" >HID</text>
<line x1="321.5" y1="495.7" x2="321.5" y2="498.3" stroke="#000" stroke-width="0.9"/>
<text x="321.5" y="510.6" font-size="8.5" text-anchor="middle" fill="#1a1a1a" color="#1a1a1a" font-weight="normal" font-style="normal" >FAC</text>
<text transform="translate(205.5,463) rotate(-90)" font-size="10.1" text-anchor="middle" fill="#1e1e1e" color="#1e1e1e" textLength="68" lengthAdjust="spacingAndGlyphs"><tspan font-style="italic">Id1/Rpl19</tspan> mRNA</text>
<text transform="translate(217.7,463) rotate(-90)" font-size="10.1" text-anchor="middle" fill="#1e1e1e" color="#1e1e1e" textLength="58.7" lengthAdjust="spacingAndGlyphs">(fold induction)</text>
<text x="280.25" y="434.2" font-size="8.2" text-anchor="middle" fill="#2a2a2a" color="#2a2a2a" font-weight="normal" font-style="normal" >a</text>
<text x="293.15" y="437.6" font-size="8.2" text-anchor="middle" fill="#2a2a2a" color="#2a2a2a" font-weight="normal" font-style="normal" >b</text>
<text x="315.05" y="462.5" font-size="8.2" text-anchor="middle" fill="#2a2a2a" color="#2a2a2a" font-weight="normal" font-style="normal" >a</text>
<line x1="241.2" y1="437.1" x2="262.2" y2="437.1" stroke="#4a4a4a" stroke-width="1.2"/>
<text x="251.7" y="434.5" font-size="6.4" text-anchor="middle" fill="#222" color="#222" font-weight="normal" font-style="normal" textLength="20.6" lengthAdjust="spacingAndGlyphs"><tspan font-style="italic">P</tspan> &lt; .05</text>
<text x="366.5" y="420" font-size="14.2" text-anchor="start" fill="#000" color="#000" font-weight="bold" font-style="normal" stroke="#000" stroke-width="0.35">K</text>
<rect x="424.2" y="482.02" width="7.9" height="13.68" fill="#22367c"/>
<line x1="428.15" y1="482.02" x2="428.15" y2="473.87" stroke="#111" stroke-width="0.95"/>
<line x1="425.75" y1="473.87" x2="430.55" y2="473.87" stroke="#111" stroke-width="1.1"/>
<circle cx="425.95" cy="479.57" r="1.1" fill="#dde" stroke="#222" stroke-width="0.7"/>
<circle cx="430.15" cy="487.72" r="1.1" fill="#dde" stroke="#222" stroke-width="0.7"/>
<circle cx="427.15" cy="493.42" r="1.1" fill="#dde" stroke="#222" stroke-width="0.7"/>
<circle cx="425.15" cy="473.87" r="1.2" fill="#fff" stroke="#222" stroke-width="0.8"/>
<circle cx="431.15" cy="473.87" r="1.2" fill="#fff" stroke="#222" stroke-width="0.8"/>
<circle cx="428.15" cy="480.32" r="1.2" fill="#fff" stroke="#222" stroke-width="0.8"/>
<rect x="437.1" y="476.02" width="7.9" height="19.68" fill="#a3182e"/>
<line x1="441.05" y1="476.02" x2="441.05" y2="451.73" stroke="#111" stroke-width="0.95"/>
<line x1="438.65" y1="451.73" x2="443.45" y2="451.73" stroke="#111" stroke-width="1.1"/>
<circle cx="438.85" cy="468.73" r="1.2" fill="#1a0608"/>
<circle cx="443.05" cy="493.02" r="1.2" fill="#1a0608"/>
<circle cx="441.05" cy="448.04" r="1.25" fill="#111"/>
<circle cx="441.05" cy="461.88" r="1.25" fill="#111"/>
<circle cx="441.05" cy="471.1" r="1.25" fill="#111"/>
<rect x="459" y="476.02" width="7.9" height="19.68" fill="#22367c"/>
<line x1="462.95" y1="476.02" x2="462.95" y2="469.25" stroke="#111" stroke-width="0.95"/>
<line x1="460.55" y1="469.25" x2="465.35" y2="469.25" stroke="#111" stroke-width="1.1"/>
<circle cx="460.75" cy="473.99" r="1.1" fill="#dde" stroke="#222" stroke-width="0.7"/>
<circle cx="464.95" cy="480.76" r="1.1" fill="#dde" stroke="#222" stroke-width="0.7"/>
<circle cx="461.95" cy="485.49" r="1.1" fill="#dde" stroke="#222" stroke-width="0.7"/>
<circle cx="459.95" cy="469.56" r="1.2" fill="#fff" stroke="#222" stroke-width="0.8"/>
<circle cx="465.95" cy="472.64" r="1.2" fill="#fff" stroke="#222" stroke-width="0.8"/>
<circle cx="462.95" cy="475.71" r="1.2" fill="#fff" stroke="#222" stroke-width="0.8"/>
<rect x="471.9" y="477.87" width="7.9" height="17.83" fill="#a3182e"/>
<line x1="475.85" y1="477.87" x2="475.85" y2="467.72" stroke="#111" stroke-width="0.95"/>
<line x1="473.45" y1="467.72" x2="478.25" y2="467.72" stroke="#111" stroke-width="1.1"/>
<circle cx="473.65" cy="474.82" r="1.2" fill="#1a0608"/>
<circle cx="477.85" cy="484.97" r="1.2" fill="#1a0608"/>
<circle cx="474.85" cy="492.07" r="1.2" fill="#1a0608"/>
<circle cx="475.85" cy="465.26" r="1.25" fill="#111"/>
<circle cx="472.85" cy="471.1" r="1.25" fill="#111"/>
<circle cx="478.85" cy="471.1" r="1.25" fill="#111"/>
<rect x="493.8" y="463.72" width="7.9" height="31.98" fill="#22367c"/>
<line x1="497.75" y1="463.72" x2="497.75" y2="438.5" stroke="#111" stroke-width="0.95"/>
<line x1="495.35" y1="438.5" x2="500.15" y2="438.5" stroke="#111" stroke-width="1.1"/>
<circle cx="495.55" cy="456.16" r="1.1" fill="#dde" stroke="#222" stroke-width="0.7"/>
<circle cx="499.75" cy="481.37" r="1.1" fill="#dde" stroke="#222" stroke-width="0.7"/>
<circle cx="497.75" cy="435.12" r="1.2" fill="#fff" stroke="#222" stroke-width="0.8"/>
<circle cx="494.75" cy="457.88" r="1.2" fill="#fff" stroke="#222" stroke-width="0.8"/>
<circle cx="500.75" cy="457.88" r="1.2" fill="#fff" stroke="#222" stroke-width="0.8"/>
<rect x="506.7" y="484.01" width="7.9" height="11.69" fill="#a3182e"/>
<line x1="510.65" y1="484.01" x2="510.65" y2="468.95" stroke="#111" stroke-width="0.95"/>
<line x1="508.25" y1="468.95" x2="513.05" y2="468.95" stroke="#111" stroke-width="1.1"/>
<circle cx="508.45" cy="479.49" r="1.2" fill="#1a0608"/>
<circle cx="512.65" cy="494.56" r="1.2" fill="#1a0608"/>
<circle cx="507.65" cy="477.25" r="1.25" fill="#111"/>
<circle cx="513.65" cy="477.25" r="1.25" fill="#111"/>
<circle cx="510.65" cy="486.47" r="1.25" fill="#111"/>
<path d="M419.2 430.5V495.7H519.5" fill="none" stroke="#000" stroke-width="1.15"/>
<line x1="416.4" y1="495.7" x2="419.2" y2="495.7" stroke="#000" stroke-width="1"/>
<text x="411.2" y="498.45" font-size="8.3" text-anchor="end" fill="#222" color="#222" font-weight="normal" font-style="normal" >0</text>
<line x1="416.4" y1="480.32" x2="419.2" y2="480.32" stroke="#000" stroke-width="1"/>
<text x="411.2" y="483.07" font-size="8.3" text-anchor="end" fill="#222" color="#222" font-weight="normal" font-style="normal" >0.005</text>
<line x1="416.4" y1="464.95" x2="419.2" y2="464.95" stroke="#000" stroke-width="1"/>
<text x="411.2" y="467.7" font-size="8.3" text-anchor="end" fill="#222" color="#222" font-weight="normal" font-style="normal" >0.010</text>
<line x1="416.4" y1="449.57" x2="419.2" y2="449.57" stroke="#000" stroke-width="1"/>
<text x="411.2" y="452.32" font-size="8.3" text-anchor="end" fill="#222" color="#222" font-weight="normal" font-style="normal" >0.015</text>
<line x1="416.4" y1="434.2" x2="419.2" y2="434.2" stroke="#000" stroke-width="1"/>
<text x="411.2" y="436.95" font-size="8.3" text-anchor="end" fill="#222" color="#222" font-weight="normal" font-style="normal" >0.020</text>
<line x1="434.6" y1="495.7" x2="434.6" y2="498.3" stroke="#000" stroke-width="0.9"/>
<text x="434.6" y="510.6" font-size="8.5" text-anchor="middle" fill="#1a1a1a" color="#1a1a1a" font-weight="normal" font-style="normal" >SD</text>
<line x1="469.4" y1="495.7" x2="469.4" y2="498.3" stroke="#000" stroke-width="0.9"/>
<text x="469.4" y="510.6" font-size="8.5" text-anchor="middle" fill="#1a1a1a" color="#1a1a1a" font-weight="normal" font-style="normal" >HID</text>
<line x1="504.2" y1="495.7" x2="504.2" y2="498.3" stroke="#000" stroke-width="0.9"/>
<text x="504.2" y="510.6" font-size="8.5" text-anchor="middle" fill="#1a1a1a" color="#1a1a1a" font-weight="normal" font-style="normal" >FAC</text>
<text transform="translate(385.5,462.8) rotate(-90)" font-size="10.1" text-anchor="middle" fill="#1e1e1e" color="#1e1e1e" textLength="61.2" lengthAdjust="spacingAndGlyphs"><tspan font-style="italic">Bmp6</tspan> mRNA/LIC</text>
<text x="497.75" y="429.8" font-size="8.2" text-anchor="middle" fill="#2a2a2a" color="#2a2a2a" font-weight="normal" font-style="normal" >a</text>
<line x1="491.9" y1="420.1" x2="513.1" y2="420.1" stroke="#4a4a4a" stroke-width="1.2"/>
<text x="502.5" y="417.5" font-size="6.4" text-anchor="middle" fill="#222" color="#222" font-weight="normal" font-style="normal" textLength="20.8" lengthAdjust="spacingAndGlyphs"><tspan font-style="italic">P</tspan> &lt; .05</text>
<text x="3" y="543.6" font-size="14.2" text-anchor="start" fill="#000" color="#000" font-weight="bold" font-style="normal" stroke="#000" stroke-width="0.35">L</text>
<rect x="70.4" y="606.06" width="7.9" height="13.44" fill="#22367c"/>
<line x1="74.35" y1="606.06" x2="74.35" y2="594.47" stroke="#111" stroke-width="0.95"/>
<line x1="71.95" y1="594.47" x2="76.75" y2="594.47" stroke="#111" stroke-width="1.1"/>
<circle cx="72.15" cy="602.58" r="1.1" fill="#dde" stroke="#222" stroke-width="0.7"/>
<circle cx="76.35" cy="614.17" r="1.1" fill="#dde" stroke="#222" stroke-width="0.7"/>
<circle cx="71.35" cy="594.47" r="1.2" fill="#fff" stroke="#222" stroke-width="0.8"/>
<circle cx="77.35" cy="594.47" r="1.2" fill="#fff" stroke="#222" stroke-width="0.8"/>
<circle cx="74.35" cy="600.96" r="1.2" fill="#fff" stroke="#222" stroke-width="0.8"/>
<rect x="83.3" y="600.96" width="7.9" height="18.54" fill="#a3182e"/>
<line x1="87.25" y1="600.96" x2="87.25" y2="576.24" stroke="#111" stroke-width="0.95"/>
<line x1="84.85" y1="576.24" x2="89.65" y2="576.24" stroke="#111" stroke-width="1.1"/>
<circle cx="85.05" cy="593.54" r="1.2" fill="#1a0608"/>
<circle cx="89.25" cy="618.26" r="1.2" fill="#1a0608"/>
<circle cx="87.25" cy="561.72" r="1.25" fill="#111"/>
<circle cx="84.25" cy="583.97" r="1.25" fill="#111"/>
<circle cx="90.25" cy="583.97" r="1.25" fill="#111"/>
<circle cx="87.25" cy="607.14" r="1.25" fill="#111"/>
<rect x="105.2" y="601.58" width="7.9" height="17.92" fill="#22367c"/>
<line x1="109.15" y1="601.58" x2="109.15" y2="581.49" stroke="#111" stroke-width="0.95"/>
<line x1="106.75" y1="581.49" x2="111.55" y2="581.49" stroke="#111" stroke-width="1.1"/>
<circle cx="106.95" cy="595.55" r="1.1" fill="#dde" stroke="#222" stroke-width="0.7"/>
<circle cx="111.15" cy="615.64" r="1.1" fill="#dde" stroke="#222" stroke-width="0.7"/>
<circle cx="109.15" cy="562.95" r="1.2" fill="#fff" stroke="#222" stroke-width="0.8"/>
<circle cx="109.15" cy="585.51" r="1.2" fill="#fff" stroke="#222" stroke-width="0.8"/>
<circle cx="109.15" cy="607.14" r="1.2" fill="#fff" stroke="#222" stroke-width="0.8"/>
<rect x="118.1" y="604.36" width="7.9" height="15.14" fill="#a3182e"/>
<line x1="122.05" y1="604.36" x2="122.05" y2="585.82" stroke="#111" stroke-width="0.95"/>
<line x1="119.65" y1="585.82" x2="124.45" y2="585.82" stroke="#111" stroke-width="1.1"/>
<circle cx="119.85" cy="598.8" r="1.2" fill="#1a0608"/>
<circle cx="124.05" cy="617.34" r="1.2" fill="#1a0608"/>
<circle cx="122.05" cy="583.35" r="1.25" fill="#111"/>
<circle cx="122.05" cy="610.23" r="1.25" fill="#111"/>
<rect x="140" y="596.02" width="7.9" height="23.48" fill="#22367c"/>
<line x1="143.95" y1="596.02" x2="143.95" y2="580.88" stroke="#111" stroke-width="0.95"/>
<line x1="141.55" y1="580.88" x2="146.35" y2="580.88" stroke="#111" stroke-width="1.1"/>
<circle cx="141.75" cy="591.47" r="1.1" fill="#dde" stroke="#222" stroke-width="0.7"/>
<circle cx="145.95" cy="606.61" r="1.1" fill="#dde" stroke="#222" stroke-width="0.7"/>
<circle cx="142.95" cy="617.21" r="1.1" fill="#dde" stroke="#222" stroke-width="0.7"/>
<circle cx="143.95" cy="575.93" r="1.2" fill="#fff" stroke="#222" stroke-width="0.8"/>
<circle cx="140.95" cy="587.36" r="1.2" fill="#fff" stroke="#222" stroke-width="0.8"/>
<circle cx="146.95" cy="587.36" r="1.2" fill="#fff" stroke="#222" stroke-width="0.8"/>
<rect x="152.9" y="607.91" width="7.9" height="11.59" fill="#a3182e"/>
<line x1="156.85" y1="607.91" x2="156.85" y2="601.27" stroke="#111" stroke-width="0.95"/>
<line x1="154.45" y1="601.27" x2="159.25" y2="601.27" stroke="#111" stroke-width="1.1"/>
<circle cx="154.65" cy="605.92" r="1.2" fill="#1a0608"/>
<circle cx="158.85" cy="612.56" r="1.2" fill="#1a0608"/>
<circle cx="155.85" cy="617.21" r="1.2" fill="#1a0608"/>
<circle cx="153.85" cy="604.05" r="1.25" fill="#111"/>
<circle cx="159.85" cy="604.05" r="1.25" fill="#111"/>
<path d="M65.4 554V619.5H165.7" fill="none" stroke="#000" stroke-width="1.15"/>
<line x1="62.6" y1="619.5" x2="65.4" y2="619.5" stroke="#000" stroke-width="1"/>
<text x="57.4" y="622.25" font-size="8.3" text-anchor="end" fill="#222" color="#222" font-weight="normal" font-style="normal" >0</text>
<line x1="62.6" y1="604.05" x2="65.4" y2="604.05" stroke="#000" stroke-width="1"/>
<text x="57.4" y="606.8" font-size="8.3" text-anchor="end" fill="#222" color="#222" font-weight="normal" font-style="normal" >0.005</text>
<line x1="62.6" y1="588.6" x2="65.4" y2="588.6" stroke="#000" stroke-width="1"/>
<text x="57.4" y="591.35" font-size="8.3" text-anchor="end" fill="#222" color="#222" font-weight="normal" font-style="normal" >0.010</text>
<line x1="62.6" y1="573.15" x2="65.4" y2="573.15" stroke="#000" stroke-width="1"/>
<text x="57.4" y="575.9" font-size="8.3" text-anchor="end" fill="#222" color="#222" font-weight="normal" font-style="normal" >0.015</text>
<line x1="62.6" y1="557.7" x2="65.4" y2="557.7" stroke="#000" stroke-width="1"/>
<text x="57.4" y="560.45" font-size="8.3" text-anchor="end" fill="#222" color="#222" font-weight="normal" font-style="normal" >0.020</text>
<line x1="80.8" y1="619.5" x2="80.8" y2="622.1" stroke="#000" stroke-width="0.9"/>
<text x="80.8" y="634.4" font-size="8.5" text-anchor="middle" fill="#1a1a1a" color="#1a1a1a" font-weight="normal" font-style="normal" >SD</text>
<line x1="115.6" y1="619.5" x2="115.6" y2="622.1" stroke="#000" stroke-width="0.9"/>
<text x="115.6" y="634.4" font-size="8.5" text-anchor="middle" fill="#1a1a1a" color="#1a1a1a" font-weight="normal" font-style="normal" >HID</text>
<line x1="150.4" y1="619.5" x2="150.4" y2="622.1" stroke="#000" stroke-width="0.9"/>
<text x="150.4" y="634.4" font-size="8.5" text-anchor="middle" fill="#1a1a1a" color="#1a1a1a" font-weight="normal" font-style="normal" >FAC</text>
<text transform="translate(31.9,586.8) rotate(-90)" font-size="10.1" text-anchor="middle" fill="#1e1e1e" color="#1e1e1e" textLength="61.8" lengthAdjust="spacingAndGlyphs"><tspan font-style="italic">Bmp2</tspan> mRNA/LIC</text>
<line x1="138.1" y1="555.75" x2="158.8" y2="555.75" stroke="#4a4a4a" stroke-width="1.2"/>
<text x="148.45" y="553.15" font-size="6.4" text-anchor="middle" fill="#222" color="#222" font-weight="normal" font-style="normal" textLength="20.3" lengthAdjust="spacingAndGlyphs"><tspan font-style="italic">P</tspan> &lt; .05</text>
<text x="183.5" y="543.6" font-size="14.2" text-anchor="start" fill="#000" color="#000" font-weight="bold" font-style="normal" stroke="#000" stroke-width="0.35">M</text>
<rect x="241.5" y="606.13" width="7.9" height="13.57" fill="#22367c"/>
<line x1="245.45" y1="606.13" x2="245.45" y2="598.11" stroke="#111" stroke-width="0.95"/>
<line x1="243.05" y1="598.11" x2="247.85" y2="598.11" stroke="#111" stroke-width="1.1"/>
<circle cx="243.25" cy="603.72" r="1.1" fill="#dde" stroke="#222" stroke-width="0.7"/>
<circle cx="247.45" cy="611.74" r="1.1" fill="#dde" stroke="#222" stroke-width="0.7"/>
<circle cx="244.45" cy="617.36" r="1.1" fill="#dde" stroke="#222" stroke-width="0.7"/>
<circle cx="245.45" cy="592.24" r="1.2" fill="#fff" stroke="#222" stroke-width="0.8"/>
<circle cx="242.45" cy="601.19" r="1.2" fill="#fff" stroke="#222" stroke-width="0.8"/>
<circle cx="248.45" cy="607.36" r="1.2" fill="#fff" stroke="#222" stroke-width="0.8"/>
<rect x="254.4" y="600.26" width="7.9" height="19.44" fill="#a3182e"/>
<line x1="258.35" y1="600.26" x2="258.35" y2="590.39" stroke="#111" stroke-width="0.95"/>
<line x1="255.95" y1="590.39" x2="260.75" y2="590.39" stroke="#111" stroke-width="1.1"/>
<circle cx="256.15" cy="597.3" r="1.2" fill="#1a0608"/>
<circle cx="260.35" cy="607.17" r="1.2" fill="#1a0608"/>
<circle cx="257.35" cy="614.09" r="1.2" fill="#1a0608"/>
<circle cx="255.35" cy="593.48" r="1.25" fill="#111"/>
<circle cx="261.35" cy="593.48" r="1.25" fill="#111"/>
<circle cx="258.35" cy="604.28" r="1.25" fill="#111"/>
<rect x="276.3" y="586.69" width="7.9" height="33.01" fill="#22367c"/>
<line x1="280.25" y1="586.69" x2="280.25" y2="580.52" stroke="#111" stroke-width="0.95"/>
<line x1="277.85" y1="580.52" x2="282.65" y2="580.52" stroke="#111" stroke-width="1.1"/>
<circle cx="278.05" cy="584.84" r="1.1" fill="#dde" stroke="#222" stroke-width="0.7"/>
<circle cx="282.25" cy="591.01" r="1.1" fill="#dde" stroke="#222" stroke-width="0.7"/>
<circle cx="279.25" cy="595.33" r="1.1" fill="#dde" stroke="#222" stroke-width="0.7"/>
<circle cx="280.25" cy="575.28" r="1.2" fill="#fff" stroke="#222" stroke-width="0.8"/>
<circle cx="277.25" cy="584.22" r="1.2" fill="#fff" stroke="#222" stroke-width="0.8"/>
<circle cx="283.25" cy="584.22" r="1.2" fill="#fff" stroke="#222" stroke-width="0.8"/>
<rect x="289.2" y="599.96" width="7.9" height="19.74" fill="#a3182e"/>
<line x1="293.15" y1="599.96" x2="293.15" y2="587.92" stroke="#111" stroke-width="0.95"/>
<line x1="290.75" y1="587.92" x2="295.55" y2="587.92" stroke="#111" stroke-width="1.1"/>
<circle cx="290.95" cy="596.35" r="1.2" fill="#1a0608"/>
<circle cx="295.15" cy="608.38" r="1.2" fill="#1a0608"/>
<circle cx="292.15" cy="616.8" r="1.2" fill="#1a0608"/>
<circle cx="290.15" cy="593.48" r="1.25" fill="#111"/>
<circle cx="293.15" cy="607.36" r="1.25" fill="#111"/>
<rect x="311.1" y="588.23" width="7.9" height="31.47" fill="#22367c"/>
<line x1="315.05" y1="588.23" x2="315.05" y2="567.56" stroke="#111" stroke-width="0.95"/>
<line x1="312.65" y1="567.56" x2="317.45" y2="567.56" stroke="#111" stroke-width="1.1"/>
<circle cx="312.85" cy="582.03" r="1.1" fill="#dde" stroke="#222" stroke-width="0.7"/>
<circle cx="317.05" cy="602.7" r="1.1" fill="#dde" stroke="#222" stroke-width="0.7"/>
<circle cx="314.05" cy="617.17" r="1.1" fill="#dde" stroke="#222" stroke-width="0.7"/>
<circle cx="312.05" cy="564.48" r="1.2" fill="#fff" stroke="#222" stroke-width="0.8"/>
<circle cx="318.05" cy="564.48" r="1.2" fill="#fff" stroke="#222" stroke-width="0.8"/>
<circle cx="315.05" cy="579.6" r="1.2" fill="#fff" stroke="#222" stroke-width="0.8"/>
<rect x="324" y="599.34" width="7.9" height="20.36" fill="#a3182e"/>
<line x1="327.95" y1="599.34" x2="327.95" y2="588.85" stroke="#111" stroke-width="0.95"/>
<line x1="325.55" y1="588.85" x2="330.35" y2="588.85" stroke="#111" stroke-width="1.1"/>
<circle cx="325.75" cy="596.19" r="1.2" fill="#1a0608"/>
<circle cx="329.95" cy="606.68" r="1.2" fill="#1a0608"/>
<circle cx="326.95" cy="614.02" r="1.2" fill="#1a0608"/>
<circle cx="327.95" cy="581.45" r="1.25" fill="#111"/>
<circle cx="327.95" cy="604.28" r="1.25" fill="#111"/>
<path d="M236.5 554.3V619.7H336.8" fill="none" stroke="#000" stroke-width="1.15"/>
<line x1="233.7" y1="619.7" x2="236.5" y2="619.7" stroke="#000" stroke-width="1"/>
<text x="228.5" y="622.45" font-size="8.3" text-anchor="end" fill="#222" color="#222" font-weight="normal" font-style="normal" >0</text>
<line x1="233.7" y1="604.28" x2="236.5" y2="604.28" stroke="#000" stroke-width="1"/>
<text x="228.5" y="607.03" font-size="8.3" text-anchor="end" fill="#222" color="#222" font-weight="normal" font-style="normal" >0.005</text>
<line x1="233.7" y1="588.85" x2="236.5" y2="588.85" stroke="#000" stroke-width="1"/>
<text x="228.5" y="591.6" font-size="8.3" text-anchor="end" fill="#222" color="#222" font-weight="normal" font-style="normal" >0.010</text>
<line x1="233.7" y1="573.42" x2="236.5" y2="573.42" stroke="#000" stroke-width="1"/>
<text x="228.5" y="576.17" font-size="8.3" text-anchor="end" fill="#222" color="#222" font-weight="normal" font-style="normal" >0.015</text>
<line x1="233.7" y1="558" x2="236.5" y2="558" stroke="#000" stroke-width="1"/>
<text x="228.5" y="560.75" font-size="8.3" text-anchor="end" fill="#222" color="#222" font-weight="normal" font-style="normal" >0.020</text>
<line x1="251.9" y1="619.7" x2="251.9" y2="622.3" stroke="#000" stroke-width="0.9"/>
<text x="251.9" y="634.6" font-size="8.5" text-anchor="middle" fill="#1a1a1a" color="#1a1a1a" font-weight="normal" font-style="normal" >SD</text>
<line x1="286.7" y1="619.7" x2="286.7" y2="622.3" stroke="#000" stroke-width="0.9"/>
<text x="286.7" y="634.6" font-size="8.5" text-anchor="middle" fill="#1a1a1a" color="#1a1a1a" font-weight="normal" font-style="normal" >HID</text>
<line x1="321.5" y1="619.7" x2="321.5" y2="622.3" stroke="#000" stroke-width="0.9"/>
<text x="321.5" y="634.6" font-size="8.5" text-anchor="middle" fill="#1a1a1a" color="#1a1a1a" font-weight="normal" font-style="normal" >FAC</text>
<text transform="translate(201.9,586.8) rotate(-90)" font-size="10.1" text-anchor="middle" fill="#1e1e1e" color="#1e1e1e" textLength="61.8" lengthAdjust="spacingAndGlyphs"><tspan font-style="italic">Hamp</tspan> mRNA/LIC</text>
<text x="280.25" y="571.2" font-size="8.2" text-anchor="middle" fill="#2a2a2a" color="#2a2a2a" font-weight="normal" font-style="normal" >a</text>
<text x="315.05" y="561.3" font-size="8.2" text-anchor="middle" fill="#2a2a2a" color="#2a2a2a" font-weight="normal" font-style="normal" >a</text>
<line x1="275.1" y1="554.4" x2="295.3" y2="554.4" stroke="#4a4a4a" stroke-width="1.2"/>
<text x="285.2" y="551.8" font-size="6.4" text-anchor="middle" fill="#222" color="#222" font-weight="normal" font-style="normal" textLength="19.8" lengthAdjust="spacingAndGlyphs"><tspan font-style="italic">P</tspan> &lt; .01</text>
<line x1="312.4" y1="554.4" x2="332.6" y2="554.4" stroke="#4a4a4a" stroke-width="1.2"/>
<text x="322.5" y="551.8" font-size="6.4" text-anchor="middle" fill="#222" color="#222" font-weight="normal" font-style="normal" textLength="19.8" lengthAdjust="spacingAndGlyphs"><tspan font-style="italic">P</tspan> = .01</text>
<text x="366.5" y="543.6" font-size="14.2" text-anchor="start" fill="#000" color="#000" font-weight="bold" font-style="normal" stroke="#000" stroke-width="0.35">N</text>
<rect x="424.2" y="610.45" width="7.9" height="9.25" fill="#22367c"/>
<line x1="428.15" y1="610.45" x2="428.15" y2="597.9" stroke="#111" stroke-width="0.95"/>
<line x1="425.75" y1="597.9" x2="430.55" y2="597.9" stroke="#111" stroke-width="1.1"/>
<circle cx="425.95" cy="606.68" r="1.1" fill="#dde" stroke="#222" stroke-width="0.7"/>
<circle cx="430.15" cy="619.23" r="1.1" fill="#dde" stroke="#222" stroke-width="0.7"/>
<circle cx="428.15" cy="593.58" r="1.2" fill="#fff" stroke="#222" stroke-width="0.8"/>
<circle cx="425.15" cy="605.92" r="1.2" fill="#fff" stroke="#222" stroke-width="0.8"/>
<circle cx="431.15" cy="605.92" r="1.2" fill="#fff" stroke="#222" stroke-width="0.8"/>
<rect x="437.1" y="599.34" width="7.9" height="20.36" fill="#a3182e"/>
<line x1="441.05" y1="599.34" x2="441.05" y2="571.99" stroke="#111" stroke-width="0.95"/>
<line x1="438.65" y1="571.99" x2="443.45" y2="571.99" stroke="#111" stroke-width="1.1"/>
<circle cx="438.85" cy="591.13" r="1.2" fill="#1a0608"/>
<circle cx="443.05" cy="618.49" r="1.2" fill="#1a0608"/>
<circle cx="441.05" cy="561.09" r="1.25" fill="#111"/>
<circle cx="441.05" cy="586.38" r="1.25" fill="#111"/>
<circle cx="441.05" cy="607.36" r="1.25" fill="#111"/>
<rect x="459" y="597.08" width="7.9" height="22.62" fill="#22367c"/>
<line x1="462.95" y1="597.08" x2="462.95" y2="568.49" stroke="#111" stroke-width="0.95"/>
<line x1="460.55" y1="568.49" x2="465.35" y2="568.49" stroke="#111" stroke-width="1.1"/>
<circle cx="460.75" cy="588.5" r="1.1" fill="#dde" stroke="#222" stroke-width="0.7"/>
<circle cx="464.95" cy="617.09" r="1.1" fill="#dde" stroke="#222" stroke-width="0.7"/>
<circle cx="462.95" cy="559.03" r="1.2" fill="#fff" stroke="#222" stroke-width="0.8"/>
<circle cx="462.95" cy="566.43" r="1.2" fill="#fff" stroke="#222" stroke-width="0.8"/>
<circle cx="459.95" cy="592.96" r="1.2" fill="#fff" stroke="#222" stroke-width="0.8"/>
<circle cx="465.95" cy="592.96" r="1.2" fill="#fff" stroke="#222" stroke-width="0.8"/>
<rect x="471.9" y="598.52" width="7.9" height="21.18" fill="#a3182e"/>
<line x1="475.85" y1="598.52" x2="475.85" y2="581.65" stroke="#111" stroke-width="0.95"/>
<line x1="473.45" y1="581.65" x2="478.25" y2="581.65" stroke="#111" stroke-width="1.1"/>
<circle cx="473.65" cy="593.46" r="1.2" fill="#1a0608"/>
<circle cx="477.85" cy="610.32" r="1.2" fill="#1a0608"/>
<circle cx="475.85" cy="569.11" r="1.25" fill="#111"/>
<circle cx="475.85" cy="575.69" r="1.25" fill="#111"/>
<circle cx="475.85" cy="595.02" r="1.25" fill="#111"/>
<rect x="493.8" y="601.4" width="7.9" height="18.3" fill="#22367c"/>
<line x1="497.75" y1="601.4" x2="497.75" y2="585.56" stroke="#111" stroke-width="0.95"/>
<line x1="495.35" y1="585.56" x2="500.15" y2="585.56" stroke="#111" stroke-width="1.1"/>
<circle cx="495.55" cy="596.64" r="1.1" fill="#dde" stroke="#222" stroke-width="0.7"/>
<circle cx="499.75" cy="612.48" r="1.1" fill="#dde" stroke="#222" stroke-width="0.7"/>
<circle cx="494.75" cy="587.62" r="1.2" fill="#fff" stroke="#222" stroke-width="0.8"/>
<circle cx="500.75" cy="587.62" r="1.2" fill="#fff" stroke="#222" stroke-width="0.8"/>
<circle cx="497.75" cy="599.13" r="1.2" fill="#fff" stroke="#222" stroke-width="0.8"/>
<rect x="506.7" y="606.33" width="7.9" height="13.37" fill="#a3182e"/>
<line x1="510.65" y1="606.33" x2="510.65" y2="598.31" stroke="#111" stroke-width="0.95"/>
<line x1="508.25" y1="598.31" x2="513.05" y2="598.31" stroke="#111" stroke-width="1.1"/>
<circle cx="508.45" cy="603.93" r="1.2" fill="#1a0608"/>
<circle cx="512.65" cy="611.95" r="1.2" fill="#1a0608"/>
<circle cx="509.65" cy="617.56" r="1.2" fill="#1a0608"/>
<circle cx="507.65" cy="600.37" r="1.25" fill="#111"/>
<circle cx="513.65" cy="600.37" r="1.25" fill="#111"/>
<path d="M419.2 554.3V619.7H519.5" fill="none" stroke="#000" stroke-width="1.15"/>
<line x1="416.4" y1="619.7" x2="419.2" y2="619.7" stroke="#000" stroke-width="1"/>
<text x="411.2" y="622.45" font-size="8.3" text-anchor="end" fill="#222" color="#222" font-weight="normal" font-style="normal" >0</text>
<line x1="416.4" y1="599.13" x2="419.2" y2="599.13" stroke="#000" stroke-width="1"/>
<text x="411.2" y="601.88" font-size="8.3" text-anchor="end" fill="#222" color="#222" font-weight="normal" font-style="normal" >0.01</text>
<line x1="416.4" y1="578.57" x2="419.2" y2="578.57" stroke="#000" stroke-width="1"/>
<text x="411.2" y="581.32" font-size="8.3" text-anchor="end" fill="#222" color="#222" font-weight="normal" font-style="normal" >0.02</text>
<line x1="416.4" y1="558" x2="419.2" y2="558" stroke="#000" stroke-width="1"/>
<text x="411.2" y="560.75" font-size="8.3" text-anchor="end" fill="#222" color="#222" font-weight="normal" font-style="normal" >0.03</text>
<line x1="434.6" y1="619.7" x2="434.6" y2="622.3" stroke="#000" stroke-width="0.9"/>
<text x="434.6" y="634.6" font-size="8.5" text-anchor="middle" fill="#1a1a1a" color="#1a1a1a" font-weight="normal" font-style="normal" >SD</text>
<line x1="469.4" y1="619.7" x2="469.4" y2="622.3" stroke="#000" stroke-width="0.9"/>
<text x="469.4" y="634.6" font-size="8.5" text-anchor="middle" fill="#1a1a1a" color="#1a1a1a" font-weight="normal" font-style="normal" >HID</text>
<line x1="504.2" y1="619.7" x2="504.2" y2="622.3" stroke="#000" stroke-width="0.9"/>
<text x="504.2" y="634.6" font-size="8.5" text-anchor="middle" fill="#1a1a1a" color="#1a1a1a" font-weight="normal" font-style="normal" >FAC</text>
<text transform="translate(390,588.1) rotate(-90)" font-size="10.1" text-anchor="middle" fill="#1e1e1e" color="#1e1e1e" textLength="54" lengthAdjust="spacingAndGlyphs"><tspan font-style="italic">Id1</tspan> mRNA/LIC</text>
<text x="462.95" y="551.8" font-size="8.2" text-anchor="middle" fill="#2a2a2a" color="#2a2a2a" font-weight="normal" font-style="normal" >a</text>
<line x1="425.4" y1="554.9" x2="449.8" y2="554.9" stroke="#4a4a4a" stroke-width="1.2"/>
<text x="437.6" y="552.3" font-size="6.4" text-anchor="middle" fill="#222" color="#222" font-weight="normal" font-style="normal" textLength="24" lengthAdjust="spacingAndGlyphs"><tspan font-style="italic">P</tspan> = .095</text>
<rect x="239.5" y="652.3" width="11" height="6.8" fill="#22367c"/>
<text x="254.3" y="658.6" font-size="8.6" fill="#1e1e1e" color="#1e1e1e" textLength="12.6" lengthAdjust="spacingAndGlyphs">Tfrc</text>
<text x="268.2" y="653.4" font-size="4.8" fill="#333" color="#333" textLength="7" lengthAdjust="spacingAndGlyphs">fl/fl</text>
<rect x="287" y="652.3" width="11" height="6.8" fill="#a3182e"/>
<text x="302" y="658.6" font-size="8.6" fill="#1e1e1e" color="#1e1e1e" textLength="12.6" lengthAdjust="spacingAndGlyphs">Tfrc</text>
<text x="315.8" y="653.4" font-size="4.8" fill="#333" color="#333" textLength="17.8" lengthAdjust="spacingAndGlyphs">Tek-Cre</text>
</svg>
</body></html>
